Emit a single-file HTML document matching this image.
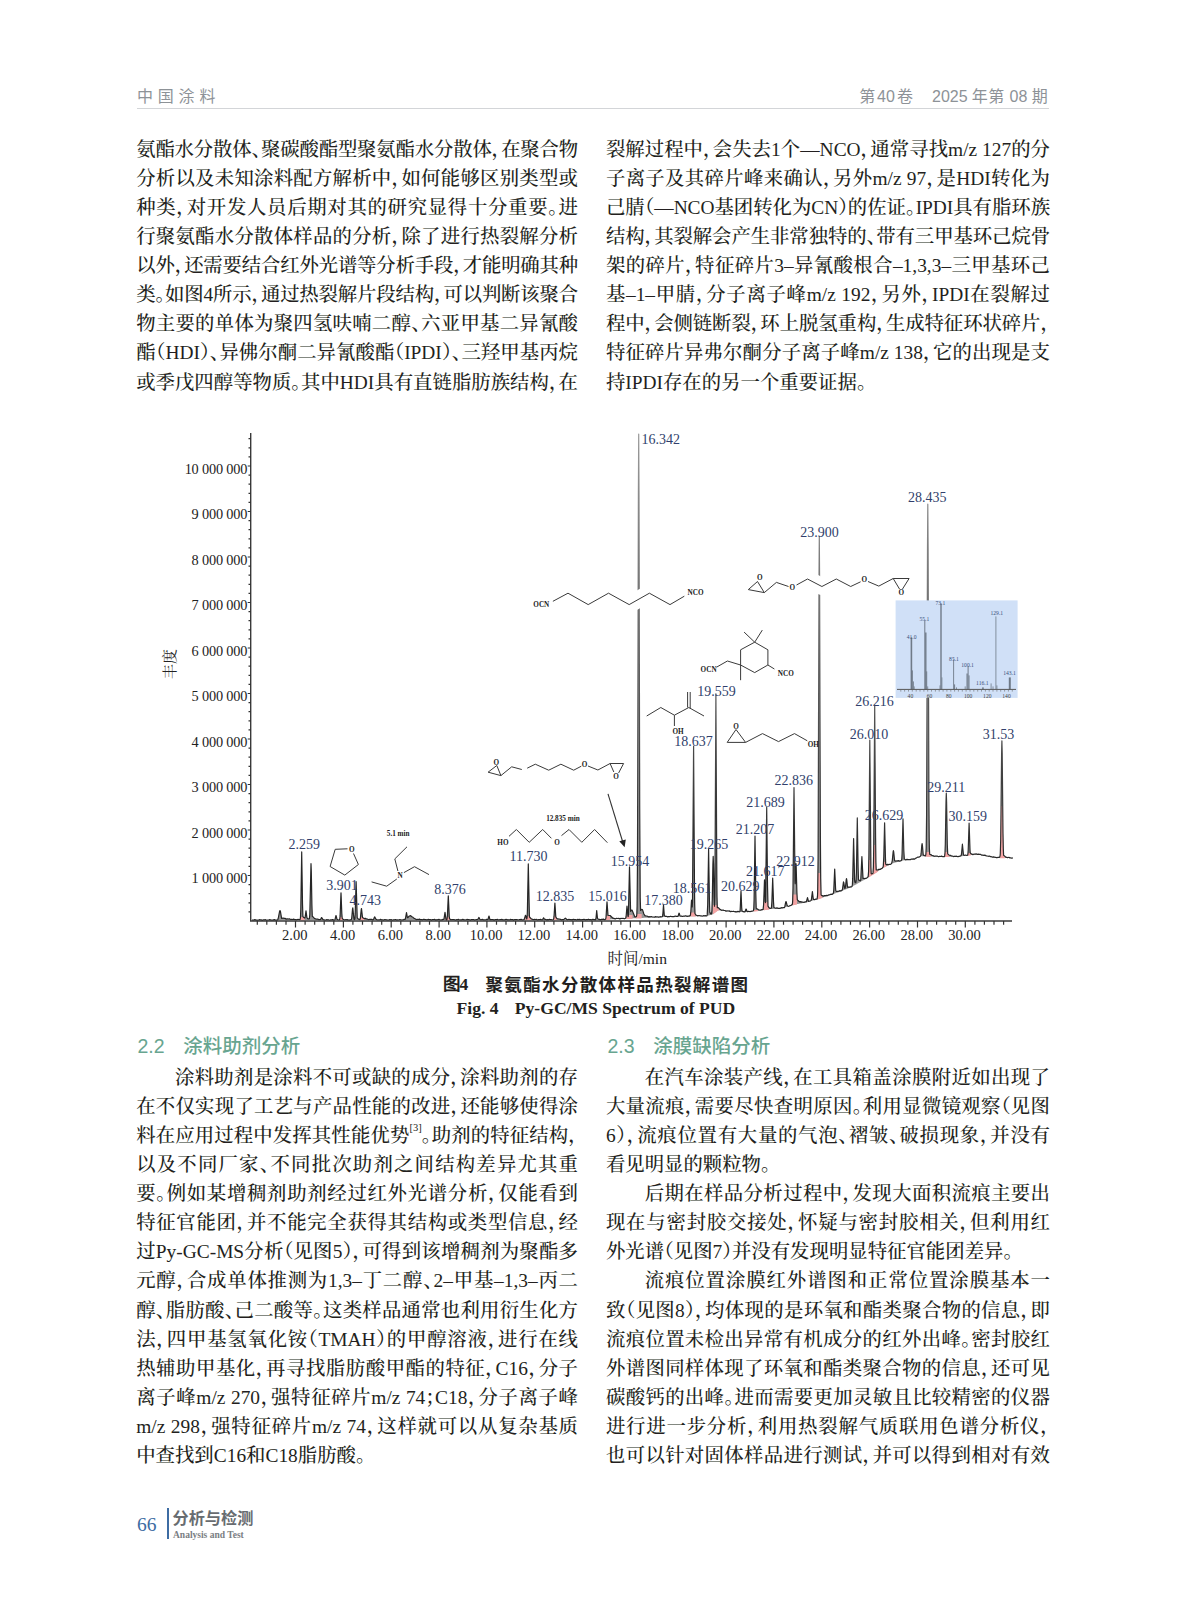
<!DOCTYPE html>
<html lang="zh-CN"><head><meta charset="utf-8"><title>page</title><style>
*{margin:0;padding:0;box-sizing:border-box}
html,body{width:1187px;height:1600px;background:#fff;overflow:hidden}
body{position:relative;font-family:"Liberation Serif","Noto Serif CJK SC",serif;color:#231f20}
.l{position:absolute;height:29px;line-height:29px;font-size:19.4px;font-weight:500;white-space:nowrap;text-align:justify;text-align-last:justify}
.l.i{padding-left:38.8px}
.l.e{text-align-last:left}
.h{font-feature-settings:"halt"}
sup{font-size:10.5px;vertical-align:top;position:relative;top:1.5px;line-height:1;font-weight:400}
.hd{position:absolute;font-family:"Liberation Sans","Noto Sans CJK SC",sans-serif;color:#8d9297;font-size:16px;line-height:20px;white-space:nowrap}
.sec{position:absolute;font-family:"Liberation Sans","Noto Sans CJK SC",sans-serif;color:#68a590;font-size:19.5px;line-height:24px;white-space:nowrap;font-weight:500}
.cap{position:absolute;white-space:nowrap;font-weight:bold;color:#231f20}
</style></head><body>
<div class="hd" style="left:137px;top:87px;letter-spacing:4.8px">中国涂料</div>
<div class="hd" style="left:859.3px;top:87px">第</div>
<div class="hd" style="left:877.0px;top:87px">40</div>
<div class="hd" style="left:897.0px;top:87px">卷</div>
<div class="hd" style="left:932.0px;top:87px">2025</div>
<div class="hd" style="left:971.8px;top:87px">年</div>
<div class="hd" style="left:988.2px;top:87px">第</div>
<div class="hd" style="left:1009.6px;top:87px">08</div>
<div class="hd" style="left:1031.8px;top:87px">期</div>
<div style="position:absolute;left:137px;top:107.5px;width:912px;height:1.5px;background:#d3d5d8"></div>
<div class="l" style="left:136.2px;top:135.20px;width:441.8px;letter-spacing:-0.20px">氨酯水分散体<span class="h">、</span>聚碳酸酯型聚氨酯水分散体<span class="h">，</span>在聚合物</div>
<div class="l" style="left:136.2px;top:164.24px;width:441.8px">分析以及未知涂料配方解析中<span class="h">，</span>如何能够区别类型或</div>
<div class="l" style="left:136.2px;top:193.28px;width:441.8px">种类<span class="h">，</span>对开发人员后期对其的研究显得十分重要<span class="h">。</span>进</div>
<div class="l" style="left:136.2px;top:222.32px;width:441.8px">行聚氨酯水分散体样品的分析<span class="h">，</span>除了进行热裂解分析</div>
<div class="l" style="left:136.2px;top:251.36px;width:441.8px;letter-spacing:-0.20px">以外<span class="h">，</span>还需要结合红外光谱等分析手段<span class="h">，</span>才能明确其种</div>
<div class="l" style="left:136.2px;top:280.40px;width:441.8px;letter-spacing:-0.19px">类<span class="h">。</span>如图4所示<span class="h">，</span>通过热裂解片段结构<span class="h">，</span>可以判断该聚合</div>
<div class="l" style="left:136.2px;top:309.44px;width:441.8px">物主要的单体为聚四氢呋喃二醇<span class="h">、</span>六亚甲基二异氰酸</div>
<div class="l" style="left:136.2px;top:338.48px;width:441.8px">酯<span class="h">（</span>HDI<span class="h">）</span><span class="h">、</span>异佛尔酮二异氰酸酯<span class="h">（</span>IPDI<span class="h">）</span><span class="h">、</span>三羟甲基丙烷</div>
<div class="l" style="left:136.2px;top:367.52px;width:441.8px">或季戊四醇等物质<span class="h">。</span>其中HDI具有直链脂肪族结构<span class="h">，</span>在</div>
<div class="l" style="left:605.9px;top:135.20px;width:444.1px">裂解过程中<span class="h">，</span>会失去1个—NCO<span class="h">，</span>通常寻找m/z 127的分</div>
<div class="l" style="left:605.9px;top:164.24px;width:444.1px">子离子及其碎片峰来确认<span class="h">，</span>另外m/z 97<span class="h">，</span>是HDI转化为</div>
<div class="l" style="left:605.9px;top:193.28px;width:444.1px;letter-spacing:-0.05px">己腈<span class="h">（</span>—NCO基团转化为CN<span class="h">）</span>的佐证<span class="h">。</span>IPDI具有脂环族</div>
<div class="l" style="left:605.9px;top:222.32px;width:444.1px;letter-spacing:-0.10px">结构<span class="h">，</span>其裂解会产生非常独特的<span class="h">、</span>带有三甲基环己烷骨</div>
<div class="l" style="left:605.9px;top:251.36px;width:444.1px">架的碎片<span class="h">，</span>特征碎片3–异氰酸根合–1,3,3–三甲基环己</div>
<div class="l" style="left:605.9px;top:280.40px;width:444.1px">基–1–甲腈<span class="h">，</span>分子离子峰m/z 192<span class="h">，</span>另外<span class="h">，</span>IPDI在裂解过</div>
<div class="l" style="left:605.9px;top:309.44px;width:444.1px;letter-spacing:-0.10px">程中<span class="h">，</span>会侧链断裂<span class="h">，</span>环上脱氢重构<span class="h">，</span>生成特征环状碎片<span class="h">，</span></div>
<div class="l" style="left:605.9px;top:338.48px;width:444.1px">特征碎片异弗尔酮分子离子峰m/z 138<span class="h">，</span>它的出现是支</div>
<div class="l e" style="left:605.9px;top:367.52px;width:444.1px">持IPDI存在的另一个重要证据<span class="h">。</span></div>
<div class="sec" style="left:137.5px;top:1034px">2.2<span style="display:inline-block;width:18.6px"></span>涂料助剂分析</div>
<div class="sec" style="left:607.5px;top:1034px">2.3<span style="display:inline-block;width:18.6px"></span>涂膜缺陷分析</div>
<div class="l i" style="left:136.2px;top:1063.20px;width:441.8px">涂料助剂是涂料不可或缺的成分<span class="h">，</span>涂料助剂的存</div>
<div class="l" style="left:136.2px;top:1092.24px;width:441.8px">在不仅实现了工艺与产品性能的改进<span class="h">，</span>还能够使得涂</div>
<div class="l" style="left:136.2px;top:1121.28px;width:441.8px">料在应用过程中发挥其性能优势<sup>[3]</sup><span class="h">。</span>助剂的特征结构<span class="h">，</span></div>
<div class="l" style="left:136.2px;top:1150.32px;width:441.8px">以及不同厂家<span class="h">、</span>不同批次助剂之间结构差异尤其重</div>
<div class="l" style="left:136.2px;top:1179.36px;width:441.8px">要<span class="h">。</span>例如某增稠剂助剂经过红外光谱分析<span class="h">，</span>仅能看到</div>
<div class="l" style="left:136.2px;top:1208.40px;width:441.8px">特征官能团<span class="h">，</span>并不能完全获得其结构或类型信息<span class="h">，</span>经</div>
<div class="l" style="left:136.2px;top:1237.44px;width:441.8px">过Py-GC-MS分析<span class="h">（</span>见图5<span class="h">）</span><span class="h">，</span>可得到该增稠剂为聚酯多</div>
<div class="l" style="left:136.2px;top:1266.48px;width:441.8px">元醇<span class="h">，</span>合成单体推测为1,3–丁二醇<span class="h">、</span>2–甲基–1,3–丙二</div>
<div class="l" style="left:136.2px;top:1295.52px;width:441.8px">醇<span class="h">、</span>脂肪酸<span class="h">、</span>己二酸等<span class="h">。</span>这类样品通常也利用衍生化方</div>
<div class="l" style="left:136.2px;top:1324.56px;width:441.8px">法<span class="h">，</span>四甲基氢氧化铵<span class="h">（</span>TMAH<span class="h">）</span>的甲醇溶液<span class="h">，</span>进行在线</div>
<div class="l" style="left:136.2px;top:1353.60px;width:441.8px">热辅助甲基化<span class="h">，</span>再寻找脂肪酸甲酯的特征<span class="h">，</span>C16<span class="h">，</span>分子</div>
<div class="l" style="left:136.2px;top:1382.64px;width:441.8px">离子峰m/z 270<span class="h">，</span>强特征碎片m/z 74<span class="h">；</span>C18<span class="h">，</span>分子离子峰</div>
<div class="l" style="left:136.2px;top:1411.68px;width:441.8px">m/z 298<span class="h">，</span>强特征碎片m/z 74<span class="h">，</span>这样就可以从复杂基质</div>
<div class="l e" style="left:136.2px;top:1440.72px;width:441.8px">中查找到C16和C18脂肪酸<span class="h">。</span></div>
<div class="l i" style="left:605.9px;top:1063.20px;width:444.1px">在汽车涂装产线<span class="h">，</span>在工具箱盖涂膜附近如出现了</div>
<div class="l" style="left:605.9px;top:1092.24px;width:444.1px">大量流痕<span class="h">，</span>需要尽快查明原因<span class="h">。</span>利用显微镜观察<span class="h">（</span>见图</div>
<div class="l" style="left:605.9px;top:1121.28px;width:444.1px">6<span class="h">）</span><span class="h">，</span>流痕位置有大量的气泡<span class="h">、</span>褶皱<span class="h">、</span>破损现象<span class="h">，</span>并没有</div>
<div class="l e" style="left:605.9px;top:1150.32px;width:444.1px">看见明显的颗粒物<span class="h">。</span></div>
<div class="l i" style="left:605.9px;top:1179.36px;width:444.1px">后期在样品分析过程中<span class="h">，</span>发现大面积流痕主要出</div>
<div class="l" style="left:605.9px;top:1208.40px;width:444.1px">现在与密封胶交接处<span class="h">，</span>怀疑与密封胶相关<span class="h">，</span>但利用红</div>
<div class="l e" style="left:605.9px;top:1237.44px;width:444.1px">外光谱<span class="h">（</span>见图7<span class="h">）</span>并没有发现明显特征官能团差异<span class="h">。</span></div>
<div class="l i" style="left:605.9px;top:1266.48px;width:444.1px">流痕位置涂膜红外谱图和正常位置涂膜基本一</div>
<div class="l" style="left:605.9px;top:1295.52px;width:444.1px">致<span class="h">（</span>见图8<span class="h">）</span><span class="h">，</span>均体现的是环氧和酯类聚合物的信息<span class="h">，</span>即</div>
<div class="l" style="left:605.9px;top:1324.56px;width:444.1px">流痕位置未检出异常有机成分的红外出峰<span class="h">。</span>密封胶红</div>
<div class="l" style="left:605.9px;top:1353.60px;width:444.1px">外谱图同样体现了环氧和酯类聚合物的信息<span class="h">，</span>还可见</div>
<div class="l" style="left:605.9px;top:1382.64px;width:444.1px">碳酸钙的出峰<span class="h">。</span>进而需要更加灵敏且比较精密的仪器</div>
<div class="l" style="left:605.9px;top:1411.68px;width:444.1px">进行进一步分析<span class="h">，</span>利用热裂解气质联用色谱分析仪<span class="h">，</span></div>
<div class="l" style="left:605.9px;top:1440.72px;width:444.1px">也可以针对固体样品进行测试<span class="h">，</span>并可以得到相对有效</div>
<div class="cap" style="left:442.5px;top:971.5px;font-size:17.5px;line-height:24px;font-family:'Liberation Serif',serif">图4</div>
<div class="cap" style="left:485.5px;top:971.5px;font-size:17.5px;line-height:24px;letter-spacing:1.35px;font-family:'Noto Sans CJK SC',sans-serif">聚氨酯水分散体样品热裂解谱图</div>
<div class="cap" style="left:456.5px;top:997.5px;font-size:17.6px;line-height:21px;font-family:'Liberation Serif',serif">Fig. 4</div>
<div class="cap" style="left:514.8px;top:997.5px;font-size:17.6px;line-height:21px;font-family:'Liberation Serif',serif">Py-GC/MS Spectrum of PUD</div>
<div style="position:absolute;left:137px;top:1513px;font-size:19.5px;line-height:24px;color:#3d6ca3;font-family:'Liberation Serif',serif">66</div>
<div style="position:absolute;left:166.5px;top:1508px;width:2px;height:31px;background:#3d6ca3"></div>
<div style="position:absolute;left:172.5px;top:1506px;font-size:16.2px;line-height:22px;color:#686c70;font-weight:bold;font-family:'Noto Sans CJK SC',sans-serif;white-space:nowrap">分析与检测</div>
<div style="position:absolute;left:173px;top:1529px;font-size:9.5px;line-height:12px;color:#7a7e82;font-weight:bold;font-family:'Liberation Serif',serif;white-space:nowrap">Analysis and Test</div>
<svg style="position:absolute;left:140px;top:425px" width="900" height="550" viewBox="140 425 900 550">
<polygon points="252.0,920.2 252.6,920.1 253.6,920.2 254.8,919.6 255.9,920.1 256.9,920.0 257.9,920.3 259.3,919.7 260.2,919.9 261.2,919.9 262.3,920.4 263.6,919.8 264.5,919.9 265.5,919.7 266.8,920.3 267.8,920.0 268.8,920.0 269.8,919.6 271.2,920.2 272.1,920.0 273.1,920.1 274.3,919.6 275.4,920.1 277.3,920.1 277.8,919.6 278.2,918.5 279.5,911.8 280.0,910.5 280.5,911.8 281.6,918.3 282.0,918.4 283.1,918.0 284.0,918.4 285.0,918.4 286.3,919.1 287.3,918.8 288.3,919.0 289.3,918.8 290.7,919.5 291.6,919.3 292.6,919.5 293.7,919.1 294.9,919.7 295.9,919.6 296.8,919.8 298.1,919.3 299.4,919.7 300.1,919.5 300.5,917.2 300.8,909.0 301.7,851.9 302.5,903.5 302.9,916.5 303.8,917.6 304.6,918.1 304.9,917.9 305.2,916.8 306.0,910.8 306.9,917.7 307.5,918.5 308.1,918.9 309.1,919.0 309.4,918.6 309.8,914.6 311.0,863.7 311.3,871.4 311.9,905.1 312.3,916.3 312.4,916.6 313.3,917.1 314.4,918.4 316.4,919.2 317.6,919.0 318.8,919.6 320.3,919.7 320.7,919.3 321.4,917.8 321.7,917.6 323.0,919.6 324.1,919.8 325.0,920.2 326.4,919.7 327.3,919.8 328.2,919.7 329.7,920.2 330.5,919.9 331.6,919.9 332.7,919.6 333.8,920.1 334.2,920.2 334.8,919.8 335.1,919.2 336.0,915.5 336.8,918.5 337.2,919.4 338.3,920.0 339.5,919.8 339.8,919.1 340.1,915.9 341.0,892.8 341.8,913.3 342.2,918.3 342.7,918.9 344.6,920.0 346.0,919.5 346.9,919.8 347.9,919.7 349.1,920.2 350.1,919.8 351.2,919.7 351.5,919.0 351.8,917.3 352.5,909.3 352.8,907.9 353.8,917.8 354.1,919.3 354.3,919.6 354.6,919.6 354.9,918.5 355.2,913.9 356.1,881.7 357.2,917.3 357.3,917.8 357.9,918.7 359.6,919.6 360.1,919.2 360.4,918.0 361.2,909.9 361.5,908.5 362.5,917.6 364.1,918.6 365.4,918.4 366.4,918.9 367.4,919.0 368.5,919.7 369.7,919.3 370.7,919.4 371.6,919.3 372.7,919.9 373.1,919.9 373.6,919.4 374.4,917.1 374.7,916.8 375.8,919.0 377.3,920.0 378.3,919.9 379.3,920.0 380.5,919.4 381.6,919.9 382.6,919.9 383.5,920.1 384.9,919.5 385.9,919.8 386.9,919.8 388.0,920.2 389.2,919.7 390.2,919.8 391.1,919.6 392.4,920.2 393.4,919.8 394.5,919.8 395.5,919.5 396.9,920.1 397.8,919.9 398.8,920.0 399.9,919.5 401.1,920.0 402.1,919.9 403.1,920.0 404.2,919.3 405.1,919.3 405.4,918.9 406.5,912.7 407.3,917.0 407.6,917.7 407.9,917.6 408.9,916.3 410.6,915.6 411.9,916.8 413.0,917.3 414.0,918.3 415.0,918.7 416.2,919.6 417.3,919.4 418.3,919.5 419.4,919.1 420.7,919.7 421.6,919.6 422.6,919.8 423.9,919.2 424.9,919.6 425.9,919.6 426.9,920.0 428.3,919.4 429.2,919.6 430.2,919.5 431.3,920.1 432.5,919.6 433.5,919.7 434.4,919.4 435.9,920.1 436.8,919.7 437.8,919.8 438.9,919.4 440.1,920.0 441.1,919.8 442.0,919.9 443.1,919.4 443.7,919.3 444.0,918.9 445.0,912.3 445.9,918.7 446.2,919.8 446.6,920.0 446.9,919.6 447.1,918.8 447.4,915.8 448.3,895.9 449.3,917.2 449.5,918.6 450.8,919.8 452.0,919.5 453.0,919.6 453.9,919.5 455.3,920.1 456.3,919.7 457.3,919.8 458.3,919.4 459.7,920.0 460.6,919.8 461.6,919.9 462.8,919.4 463.9,919.9 464.9,919.8 465.9,920.0 467.2,919.4 468.2,919.7 469.3,919.7 470.3,920.1 471.5,919.5 472.5,919.7 473.4,919.5 474.8,920.1 475.8,919.7 476.9,919.7 477.9,919.3 479.0,917.4 479.8,919.2 480.3,919.7 481.1,919.8 482.3,919.4 483.4,919.9 484.4,919.8 485.4,920.0 486.6,919.4 487.6,919.7 487.9,919.5 489.0,916.0 489.8,919.2 490.2,919.8 491.1,919.5 492.0,919.7 492.9,919.6 494.2,920.1 495.3,919.6 496.3,919.7 497.3,919.4 498.7,920.0 499.6,919.7 500.7,919.7 501.7,919.4 502.9,919.9 504.0,919.8 504.8,919.9 506.1,919.3 507.2,919.8 508.2,919.7 509.2,920.0 510.7,919.4 511.5,919.7 512.6,919.6 513.6,920.1 514.8,919.5 515.9,919.6 516.8,919.5 518.1,920.0 519.1,919.7 520.1,919.7 521.2,919.4 522.6,920.0 523.9,919.6 524.2,919.4 525.5,915.3 525.8,915.8 526.5,918.6 526.8,919.0 527.1,917.5 527.4,910.8 528.3,863.9 529.4,916.0 529.5,917.0 530.8,918.4 532.9,919.6 533.4,919.7 534.4,919.3 535.4,919.5 536.3,919.4 537.6,920.0 538.6,919.6 539.7,919.6 540.6,919.4 542.1,920.0 542.6,919.6 543.6,917.8 544.5,919.2 545.3,919.3 546.2,919.8 547.3,919.7 548.3,919.9 549.5,919.3 550.5,919.7 551.6,919.7 552.5,920.0 553.1,919.8 553.7,918.8 554.0,916.7 554.9,903.1 555.8,916.9 556.6,918.3 557.2,918.8 558.2,918.9 559.2,919.2 560.2,919.2 561.5,919.9 562.5,919.6 563.6,919.6 565.3,918.2 565.7,918.4 566.6,919.4 567.6,919.8 569.0,919.3 570.1,919.7 571.1,919.7 572.0,919.9 573.4,919.3 574.4,919.6 575.4,919.5 576.5,920.0 577.8,919.4 578.7,919.6 579.7,919.4 580.9,920.0 581.9,919.6 583.0,919.6 584.0,919.3 585.3,919.9 586.3,919.7 587.3,919.7 588.4,919.2 589.6,919.7 590.6,919.7 591.5,919.9 592.9,919.3 593.9,919.6 594.8,919.6 595.5,919.8 595.8,919.3 596.0,918.2 596.7,910.6 597.4,917.6 597.7,918.7 598.2,919.1 599.2,919.3 600.3,919.9 601.5,919.4 602.5,919.4 603.4,919.1 604.6,919.7 605.0,919.6 605.7,919.0 606.0,917.5 607.0,901.9 608.0,915.2 608.9,915.5 610.1,915.5 612.9,918.2 615.3,918.9 616.7,918.3 617.7,918.5 618.7,918.4 619.8,918.9 621.1,918.4 622.0,918.5 623.0,918.2 624.3,918.8 625.5,918.3 625.8,917.9 626.1,916.5 627.0,906.1 627.9,915.9 628.1,916.7 628.2,916.6 628.4,914.7 629.5,866.8 630.6,911.3 631.5,910.0 632.0,910.0 634.8,916.7 635.1,917.0 636.4,916.6 636.8,914.8 637.1,906.4 637.5,860.4 638.4,494.5 638.7,434.0 639.0,494.4 639.7,806.6 640.2,897.5 640.6,910.5 641.6,909.4 642.0,909.4 642.3,909.6 642.8,910.6 643.9,914.0 644.9,915.6 645.8,916.0 646.9,916.0 648.2,916.8 649.1,916.7 650.1,916.9 651.3,916.5 652.4,917.0 653.4,917.0 654.3,917.2 655.7,916.6 656.7,917.0 657.8,916.9 658.8,917.3 660.0,916.7 661.0,916.8 662.3,916.7 662.6,916.1 662.8,914.7 663.5,905.1 664.3,915.3 664.4,915.6 665.3,916.3 666.4,916.3 667.7,916.9 668.6,916.7 669.6,916.7 670.7,916.2 672.0,916.7 672.9,916.5 673.9,916.7 675.2,916.0 676.2,916.4 677.8,916.4 678.2,915.9 679.0,913.2 679.2,913.3 679.8,915.2 680.2,916.0 680.6,916.1 681.6,916.1 682.6,916.5 683.8,916.0 684.8,916.1 685.7,915.8 687.1,916.4 688.1,916.1 689.1,916.1 690.1,915.6 690.4,915.1 690.8,912.2 691.5,900.6 691.6,900.2 691.7,900.6 692.2,907.0 692.5,902.5 693.6,746.1 694.5,888.4 694.7,904.6 695.0,913.7 695.9,915.0 697.8,915.9 699.0,915.5 700.0,915.8 701.1,915.8 702.1,916.2 703.3,915.7 704.3,915.8 705.2,915.6 706.5,916.0 706.9,915.8 707.2,914.9 707.7,904.8 708.6,849.2 709.4,899.3 709.8,912.1 710.6,913.6 711.0,914.0 711.3,913.9 711.6,913.2 711.9,910.5 712.3,899.0 712.9,864.6 713.2,856.4 713.5,863.9 714.1,897.3 714.5,906.2 714.8,896.5 715.0,876.0 715.9,693.8 716.8,875.9 717.0,896.6 717.3,907.7 718.0,907.6 718.3,907.7 719.6,909.0 721.6,910.3 723.0,910.0 723.8,910.4 724.9,910.5 726.0,911.1 727.1,910.9 728.1,911.0 729.1,910.9 730.5,911.6 731.5,911.4 732.5,911.5 733.5,911.2 734.9,911.8 735.7,911.7 736.8,911.9 738.0,911.4 739.1,911.8 739.7,911.7 740.0,911.0 740.2,909.3 741.0,891.2 741.7,907.8 742.0,910.9 743.4,911.7 744.9,911.8 745.3,911.2 746.0,909.0 746.3,909.3 746.9,911.1 747.4,911.6 748.7,911.3 750.0,911.7 751.0,911.3 752.1,911.2 753.3,910.7 753.5,910.4 753.8,908.2 754.1,899.2 755.0,836.0 755.8,893.4 756.2,908.1 756.4,908.6 757.5,909.0 758.5,909.8 760.4,910.2 760.8,910.2 761.8,909.6 762.8,909.7 763.1,909.4 763.6,904.8 764.5,879.8 765.3,901.5 765.5,902.6 765.6,901.1 766.7,807.3 767.5,884.9 768.0,906.1 769.1,907.8 769.6,908.2 771.1,908.3 771.5,907.3 771.9,901.3 772.7,878.2 773.5,901.7 773.9,907.5 775.6,908.3 776.9,907.9 778.1,908.4 779.1,908.3 779.9,908.4 781.3,907.7 782.3,907.9 783.3,907.6 784.3,907.6 784.8,906.7 785.7,902.2 786.0,901.6 786.3,902.2 787.1,905.4 787.7,906.0 788.9,906.4 789.9,905.6 791.1,905.3 792.2,904.5 792.5,903.3 792.7,900.4 793.0,887.9 794.0,787.6 795.0,880.0 795.1,883.0 795.2,883.8 795.3,882.9 795.8,866.1 796.0,863.7 796.1,864.3 796.9,892.3 797.3,899.7 797.9,900.5 799.5,901.8 800.8,901.6 801.9,902.2 802.9,902.2 804.0,902.5 805.1,901.8 806.1,901.9 806.4,901.6 807.5,897.7 808.5,901.4 808.8,901.5 809.6,901.0 810.6,900.8 811.1,900.4 811.4,899.5 812.4,891.6 813.2,898.3 813.5,899.5 814.7,899.6 815.8,899.0 816.8,899.2 817.1,899.0 817.5,896.2 817.7,890.9 818.1,856.2 819.0,582.0 819.3,536.5 819.6,581.6 820.4,837.8 820.7,878.1 821.1,894.9 821.5,895.4 823.3,896.1 824.7,895.5 825.7,895.6 826.8,895.4 827.7,895.6 829.0,894.8 830.0,894.6 830.9,894.2 832.3,894.3 833.2,893.5 833.5,892.6 833.8,889.6 834.7,869.1 835.6,888.8 835.8,890.7 836.0,890.9 836.7,891.4 838.5,891.3 839.7,890.7 841.0,890.9 842.0,890.3 842.5,889.0 843.5,881.9 843.8,882.7 844.6,888.2 844.8,888.4 845.1,888.3 845.5,886.8 846.2,880.0 846.5,878.6 846.8,880.1 847.4,886.1 847.7,887.4 848.5,887.1 849.6,887.2 850.6,886.8 851.5,886.9 852.0,886.5 852.4,884.4 852.7,878.4 853.6,838.5 854.6,879.8 854.8,882.0 855.5,882.7 855.8,882.6 856.1,880.7 856.4,872.8 857.3,817.9 858.1,867.5 858.5,879.9 860.3,880.8 860.6,880.4 860.8,879.3 861.9,856.6 863.0,878.4 863.7,878.3 864.8,878.6 866.7,878.2 867.9,876.9 868.2,876.4 868.6,871.4 868.9,854.8 869.8,740.0 870.9,867.0 871.2,873.7 871.6,873.8 872.7,873.5 873.0,872.9 873.4,866.9 873.7,848.7 874.7,704.9 875.6,837.4 875.9,862.0 876.2,869.8 877.5,870.0 878.7,869.4 880.1,869.4 882.1,868.3 883.0,867.1 883.3,866.1 883.8,856.6 884.6,822.8 885.5,859.4 885.7,863.6 885.8,864.1 886.2,864.6 886.6,864.7 887.6,864.4 888.6,864.6 889.6,864.3 890.6,864.3 891.1,864.0 891.7,863.1 892.3,860.6 893.1,852.2 893.4,850.7 893.7,851.9 894.6,860.7 895.3,861.1 896.1,860.9 897.1,861.0 898.2,860.6 899.5,861.1 901.2,860.6 901.5,860.3 901.8,858.8 902.1,853.5 903.0,818.8 903.8,850.5 904.3,858.9 905.3,859.7 905.8,859.9 907.0,859.3 908.1,859.6 909.1,859.5 910.1,859.8 911.4,859.0 912.3,859.1 913.3,858.9 914.4,859.2 915.6,858.2 916.6,857.9 917.6,857.1 918.9,857.2 920.4,856.2 920.8,855.5 921.1,853.7 921.8,845.4 922.1,843.7 922.4,845.4 923.2,854.6 923.5,855.1 924.9,855.8 925.5,855.8 925.9,854.1 926.2,847.8 926.6,814.3 927.5,548.2 927.8,504.2 928.1,548.2 928.9,798.0 929.2,837.3 929.4,848.7 929.7,854.3 930.8,854.6 931.8,855.3 932.9,855.6 934.0,856.3 935.1,856.0 936.2,856.2 937.1,856.0 938.5,856.7 939.5,856.4 940.5,856.5 941.5,856.1 942.9,856.7 944.3,856.6 944.6,856.2 945.0,852.7 945.3,844.4 946.0,801.8 946.3,793.2 946.6,802.1 947.3,844.5 947.7,853.8 949.1,855.2 950.4,855.3 951.3,855.8 952.4,856.0 953.4,856.6 954.7,856.2 955.7,856.3 956.6,856.2 958.0,856.8 959.0,856.3 960.1,856.2 960.8,855.8 961.2,855.3 961.5,854.0 962.4,844.2 963.5,855.0 964.3,855.4 965.4,855.0 966.8,855.5 967.6,855.1 967.9,854.1 968.2,850.3 969.1,823.1 970.0,849.5 970.2,852.6 970.7,853.5 972.9,854.6 974.2,854.0 975.2,854.1 976.1,853.9 977.4,854.4 978.5,854.2 979.5,854.4 980.4,854.3 981.8,855.2 982.8,855.1 983.8,855.4 984.9,855.1 986.2,855.9 987.1,856.0 988.1,856.3 989.3,856.0 990.4,856.6 991.4,856.7 992.4,857.2 993.7,856.9 994.8,857.3 995.7,857.3 996.8,857.8 998.0,857.4 999.2,857.4 999.7,857.1 1000.1,855.6 1000.3,853.2 1000.7,839.7 1001.6,753.8 1001.9,740.8 1002.2,753.6 1003.0,833.5 1003.3,848.6 1003.6,854.9 1003.7,855.5 1004.4,855.8 1005.8,857.2 1007.6,857.7 1008.8,857.3 1009.9,857.9 1010.9,857.9 1011.8,858.2 1012.9,857.7 1013.0,858.2 1012.0,858.2 1011.0,858.1 1010.0,858.1 1009.0,858.1 1008.0,858.0 1007.0,858.0 1006.0,858.0 1005.0,857.9 1004.0,857.9 1003.0,857.9 1002.0,857.8 1001.0,857.8 1000.0,857.8 999.0,857.7 998.0,857.7 997.0,857.7 996.0,857.6 995.0,857.6 994.0,857.4 993.0,857.2 992.0,857.0 991.0,856.8 990.0,856.7 989.0,856.5 988.0,856.3 987.0,856.1 986.0,855.9 985.0,855.7 984.0,855.5 983.0,855.3 982.0,855.1 981.0,855.0 980.0,854.8 979.0,854.6 978.0,854.4 977.0,854.2 976.0,854.3 975.0,854.5 974.0,854.6 973.0,854.7 972.0,854.9 971.0,855.0 970.0,855.1 969.0,855.3 968.0,855.4 967.0,855.5 966.0,855.6 965.0,855.8 964.0,855.9 963.0,856.0 962.0,856.2 961.0,856.3 960.0,856.4 959.0,856.6 958.0,856.7 957.0,856.7 956.0,856.7 955.0,856.7 954.0,856.7 953.0,856.7 952.0,856.7 951.0,856.7 950.0,856.7 949.0,856.7 948.0,856.7 947.0,856.7 946.0,856.7 945.0,856.7 944.0,856.7 943.0,856.7 942.0,856.7 941.0,856.7 940.0,856.7 939.0,856.7 938.0,856.6 937.0,856.6 936.0,856.6 935.0,856.6 934.0,856.5 933.0,856.5 932.0,856.5 931.0,856.5 930.0,856.4 929.0,856.4 928.0,856.4 927.0,856.4 926.0,856.3 925.0,856.3 924.0,856.3 923.0,856.3 922.0,856.2 921.0,856.2 920.0,856.6 919.0,857.1 918.0,857.5 917.0,857.9 916.0,858.3 915.0,858.8 914.0,859.2 913.0,859.3 912.0,859.4 911.0,859.5 910.0,859.6 909.0,859.7 908.0,859.9 907.0,860.0 906.0,860.1 905.0,860.2 904.0,860.3 903.0,860.4 902.0,860.7 901.0,861.0 900.0,861.2 899.0,861.5 898.0,861.8 897.0,862.1 896.0,862.4 895.0,862.6 894.0,862.9 893.0,863.2 892.0,863.6 891.0,864.1 890.0,864.5 889.0,865.0 888.0,865.4 887.0,865.9 886.0,866.3 885.0,866.8 884.0,867.2 883.0,867.9 882.0,868.5 881.0,869.2 880.0,869.9 879.0,870.5 878.0,871.2 877.0,871.9 876.0,872.5 875.0,873.2 874.0,873.8 873.0,874.4 872.0,875.0 871.0,875.6 870.0,876.3 869.0,876.9 868.0,877.5 867.0,878.1 866.0,878.7 865.0,879.3 864.0,879.9 863.0,880.5 862.0,881.0 861.0,881.6 860.0,882.2 859.0,882.8 858.0,883.3 857.0,883.9 856.0,884.4 855.0,885.0 854.0,885.5 853.0,886.1 852.0,886.6 851.0,887.2 850.0,887.7 849.0,888.1 848.0,888.5 847.0,888.9 846.0,889.3 845.0,889.7 844.0,890.1 843.0,890.5 842.0,890.9 841.0,891.3 840.0,891.7 839.0,892.0 838.0,892.4 837.0,892.7 836.0,893.0 835.0,893.4 834.0,893.7 833.0,894.0 832.0,894.3 831.0,894.7 830.0,895.0 829.0,895.3 828.0,895.7 827.0,896.0 826.0,896.4 825.0,896.7 824.0,897.0 823.0,897.4 822.0,897.7 821.0,898.1 820.0,898.4 819.0,898.7 818.0,899.0 817.0,899.3 816.0,899.6 815.0,899.9 814.0,900.2 813.0,900.4 812.0,900.7 811.0,901.0 810.0,901.3 809.0,901.6 808.0,901.9 807.0,902.2 806.0,902.4 805.0,902.6 804.0,902.8 803.0,903.0 802.0,903.2 801.0,903.4 800.0,903.5 799.0,903.7 798.0,903.9 797.0,904.1 796.0,904.3 795.0,904.5 794.0,904.7 793.0,905.0 792.0,905.3 791.0,905.6 790.0,905.9 789.0,906.2 788.0,906.5 787.0,906.7 786.0,907.0 785.0,907.3 784.0,907.6 783.0,907.9 782.0,908.2 781.0,908.3 780.0,908.4 779.0,908.4 778.0,908.5 777.0,908.6 776.0,908.7 775.0,908.7 774.0,908.8 773.0,908.9 772.0,909.0 771.0,909.0 770.0,909.1 769.0,909.2 768.0,909.3 767.0,909.5 766.0,909.6 765.0,909.8 764.0,909.9 763.0,910.0 762.0,910.2 761.0,910.3 760.0,910.4 759.0,910.6 758.0,910.7 757.0,910.9 756.0,911.0 755.0,911.1 754.0,911.2 753.0,911.3 752.0,911.4 751.0,911.5 750.0,911.6 749.0,911.7 748.0,911.8 747.0,911.9 746.0,912.0 745.0,912.1 744.0,912.2 743.0,912.2 742.0,912.1 741.0,912.1 740.0,912.0 739.0,912.0 738.0,911.9 737.0,911.9 736.0,911.8 735.0,911.8 734.0,911.7 733.0,911.7 732.0,911.6 731.0,911.6 730.0,911.5 729.0,911.4 728.0,911.3 727.0,911.2 726.0,911.1 725.0,911.0 724.0,910.8 723.0,910.7 722.0,910.6 721.0,910.5 720.0,910.4 719.0,910.3 718.0,910.2 717.0,911.0 716.0,911.7 715.0,912.5 714.0,913.2 713.0,914.0 712.0,914.7 711.0,914.9 710.0,915.1 709.0,915.4 708.0,915.6 707.0,915.8 706.0,916.0 705.0,916.0 704.0,916.0 703.0,916.0 702.0,916.1 701.0,916.1 700.0,916.1 699.0,916.1 698.0,916.1 697.0,916.1 696.0,916.2 695.0,916.2 694.0,916.2 693.0,916.2 692.0,916.2 691.0,916.2 690.0,916.2 689.0,916.3 688.0,916.3 687.0,916.3 686.0,916.3 685.0,916.3 684.0,916.3 683.0,916.4 682.0,916.4 681.0,916.4 680.0,916.4 679.0,916.4 678.0,916.5 677.0,916.5 676.0,916.6 675.0,916.6 674.0,916.6 673.0,916.7 672.0,916.7 671.0,916.8 670.0,916.8 669.0,916.8 668.0,916.9 667.0,916.9 666.0,917.0 665.0,917.0 664.0,917.0 663.0,917.1 662.0,917.1 661.0,917.2 660.0,917.2 659.0,917.2 658.0,917.3 657.0,917.3 656.0,917.4 655.0,917.4 654.0,917.4 653.0,917.5 652.0,917.5 651.0,917.6 650.0,917.6 649.0,917.6 648.0,917.7 647.0,917.7 646.0,917.8 645.0,917.8 644.0,917.8 643.0,917.9 642.0,917.9 641.0,918.0 640.0,918.0 639.0,918.0 638.0,918.1 637.0,918.1 636.0,918.2 635.0,918.2 634.0,918.3 633.0,918.3 632.0,918.4 631.0,918.4 630.0,918.5 629.0,918.5 628.0,918.5 627.0,918.6 626.0,918.6 625.0,918.7 624.0,918.7 623.0,918.8 622.0,918.8 621.0,918.9 620.0,918.9 619.0,918.9 618.0,919.0 617.0,919.0 616.0,919.1 615.0,919.1 614.0,919.2 613.0,919.2 612.0,919.3 611.0,919.3 610.0,919.4 609.0,919.4 608.0,919.4 607.0,919.5 606.0,919.5 605.0,919.6 604.0,919.6 603.0,919.7 602.0,919.7 601.0,919.8 600.0,919.8 599.0,919.8 598.0,919.8 597.0,919.8 596.0,919.8 595.0,919.8 594.0,919.8 593.0,919.8 592.0,919.8 591.0,919.8 590.0,919.8 589.0,919.8 588.0,919.8 587.0,919.8 586.0,919.8 585.0,919.8 584.0,919.8 583.0,919.8 582.0,919.8 581.0,919.8 580.0,919.8 579.0,919.8 578.0,919.8 577.0,919.8 576.0,919.8 575.0,919.8 574.0,919.8 573.0,919.8 572.0,919.8 571.0,919.8 570.0,919.8 569.0,919.8 568.0,919.8 567.0,919.8 566.0,919.8 565.0,919.8 564.0,919.8 563.0,919.8 562.0,919.8 561.0,919.8 560.0,919.8 559.0,919.8 558.0,919.8 557.0,919.8 556.0,919.9 555.0,919.9 554.0,919.9 553.0,919.9 552.0,919.9 551.0,919.9 550.0,919.9 549.0,919.9 548.0,919.9 547.0,919.9 546.0,919.9 545.0,919.9 544.0,919.9 543.0,919.9 542.0,919.9 541.0,919.9 540.0,919.9 539.0,919.9 538.0,919.9 537.0,919.9 536.0,919.9 535.0,919.9 534.0,919.9 533.0,919.9 532.0,919.9 531.0,919.9 530.0,919.9 529.0,919.9 528.0,919.9 527.0,919.9 526.0,919.9 525.0,919.9 524.0,919.9 523.0,919.9 522.0,919.9 521.0,919.9 520.0,919.9 519.0,919.9 518.0,919.9 517.0,919.9 516.0,919.9 515.0,919.9 514.0,919.9 513.0,919.9 512.0,919.9 511.0,919.9 510.0,919.9 509.0,919.9 508.0,919.9 507.0,919.9 506.0,919.9 505.0,919.9 504.0,919.9 503.0,919.9 502.0,919.9 501.0,919.9 500.0,919.9 499.0,919.9 498.0,919.9 497.0,919.9 496.0,919.9 495.0,919.9 494.0,919.9 493.0,919.9 492.0,919.9 491.0,919.9 490.0,919.9 489.0,919.9 488.0,919.9 487.0,919.9 486.0,919.9 485.0,919.9 484.0,919.9 483.0,919.9 482.0,919.9 481.0,919.9 480.0,919.9 479.0,919.9 478.0,919.9 477.0,919.9 476.0,919.9 475.0,919.9 474.0,919.9 473.0,919.9 472.0,919.9 471.0,919.9 470.0,919.9 469.0,919.9 468.0,920.0 467.0,920.0 466.0,920.0 465.0,920.0 464.0,920.0 463.0,920.0 462.0,920.0 461.0,920.0 460.0,920.0 459.0,920.0 458.0,920.0 457.0,920.0 456.0,920.0 455.0,920.0 454.0,920.0 453.0,920.0 452.0,920.0 451.0,920.0 450.0,920.0 449.0,920.0 448.0,920.0 447.0,920.0 446.0,920.0 445.0,920.0 444.0,920.0 443.0,920.0 442.0,920.0 441.0,920.0 440.0,920.0 439.0,920.0 438.0,920.0 437.0,920.0 436.0,920.0 435.0,920.0 434.0,920.0 433.0,920.0 432.0,920.0 431.0,920.0 430.0,920.0 429.0,920.0 428.0,920.0 427.0,920.0 426.0,920.0 425.0,920.0 424.0,920.0 423.0,920.0 422.0,920.0 421.0,920.0 420.0,920.0 419.0,920.0 418.0,920.0 417.0,920.0 416.0,920.0 415.0,920.0 414.0,920.0 413.0,920.0 412.0,920.0 411.0,920.0 410.0,920.0 409.0,920.0 408.0,920.0 407.0,920.0 406.0,920.0 405.0,920.0 404.0,920.0 403.0,920.0 402.0,920.0 401.0,920.0 400.0,920.0 399.0,920.0 398.0,920.0 397.0,920.0 396.0,920.0 395.0,920.0 394.0,920.0 393.0,920.0 392.0,920.0 391.0,920.0 390.0,920.0 389.0,920.0 388.0,920.0 387.0,920.0 386.0,920.0 385.0,920.0 384.0,920.0 383.0,920.0 382.0,920.0 381.0,920.1 380.0,920.1 379.0,920.1 378.0,920.1 377.0,920.1 376.0,920.1 375.0,920.1 374.0,920.1 373.0,920.1 372.0,920.1 371.0,920.1 370.0,920.1 369.0,920.1 368.0,920.1 367.0,920.1 366.0,920.1 365.0,920.1 364.0,920.1 363.0,920.1 362.0,920.1 361.0,920.1 360.0,920.1 359.0,920.1 358.0,920.1 357.0,920.1 356.0,920.1 355.0,920.1 354.0,920.1 353.0,920.1 352.0,920.1 351.0,920.1 350.0,920.1 349.0,920.1 348.0,920.1 347.0,920.1 346.0,920.1 345.0,920.1 344.0,920.1 343.0,920.1 342.0,920.1 341.0,920.1 340.0,920.1 339.0,920.1 338.0,920.1 337.0,920.1 336.0,920.1 335.0,920.1 334.0,920.1 333.0,920.1 332.0,920.1 331.0,920.1 330.0,920.1 329.0,920.1 328.0,920.1 327.0,920.1 326.0,920.1 325.0,920.1 324.0,920.1 323.0,920.1 322.0,920.1 321.0,920.1 320.0,920.1 319.0,920.1 318.0,920.1 317.0,920.1 316.0,920.1 315.0,920.1 314.0,920.1 313.0,920.1 312.0,920.1 311.0,920.1 310.0,920.1 309.0,920.1 308.0,920.1 307.0,920.1 306.0,920.1 305.0,920.1 304.0,920.1 303.0,920.1 302.0,920.1 301.0,920.1 300.0,920.1 299.0,920.1 298.0,920.1 297.0,920.1 296.0,920.1 295.0,920.1 294.0,920.1 293.0,920.2 292.0,920.2 291.0,920.2 290.0,920.2 289.0,920.2 288.0,920.2 287.0,920.2 286.0,920.2 285.0,920.2 284.0,920.2 283.0,920.2 282.0,920.2 281.0,920.2 280.0,920.2 279.0,920.2 278.0,920.2 277.0,920.2 276.0,920.2 275.0,920.2 274.0,920.2 273.0,920.2 272.0,920.2 271.0,920.2 270.0,920.2 269.0,920.2 268.0,920.2 267.0,920.2 266.0,920.2 265.0,920.2 264.0,920.2 263.0,920.2 262.0,920.2 261.0,920.2 260.0,920.2 259.0,920.2 258.0,920.2 257.0,920.2 256.0,920.2 255.0,920.2 254.0,920.2 253.0,920.2 252.0,920.2" fill="#959595" stroke="none"/>
<polygon points="817.4,897.5 817.5,896.2 817.6,894.1 817.7,890.9 817.8,886.2 817.9,879.2 818.0,873.0 818.1,873.0 818.2,873.0 818.3,873.0 818.4,873.0 818.5,873.0 818.6,873.0 818.7,873.0 818.8,873.0 818.9,873.0 819.0,873.0 819.1,873.0 819.2,873.0 819.3,873.0 819.4,873.0 819.5,873.0 819.6,873.0 819.7,873.0 819.8,873.0 819.9,873.0 820.0,873.0 820.1,873.0 820.2,873.0 820.3,873.0 820.4,873.0 820.5,873.0 820.6,873.0 820.7,878.1 820.8,885.0 820.9,889.7 821.0,892.8 821.1,894.9 821.2,895.2 821.3,895.2 821.4,895.3 821.5,895.4 821.6,895.4 821.7,895.5 821.8,895.5 821.9,895.5 822.0,895.5 822.1,895.6 822.2,895.6 822.3,895.6 822.3,898.0 822.2,898.1 822.1,898.1 822.0,898.1 821.9,898.2 821.8,898.2 821.7,898.2 821.6,898.3 821.5,898.3 821.4,898.3 821.3,898.4 821.2,898.4 821.1,898.4 821.0,898.5 820.9,898.5 820.8,898.5 820.7,898.6 820.6,898.6 820.5,898.6 820.4,898.7 820.3,898.7 820.2,898.7 820.1,898.8 820.0,898.8 819.9,898.8 819.8,898.9 819.7,898.9 819.6,898.9 819.5,898.9 819.4,899.0 819.3,899.0 819.2,899.0 819.1,899.1 819.0,899.1 818.9,899.1 818.8,899.2 818.7,899.2 818.6,899.2 818.5,899.2 818.4,899.3 818.3,899.3 818.2,899.3 818.1,899.4 818.0,899.4 817.9,899.4 817.8,899.4 817.7,899.5 817.6,899.5 817.5,899.5 817.4,899.6" fill="#f3a3a3"/>
<polygon points="871.7,873.8 871.8,873.7 873.0,872.9 873.1,872.3 873.2,871.3 873.3,869.6 873.4,866.9 873.5,862.9 873.6,856.9 873.7,848.7 873.8,845.0 873.9,845.0 874.0,845.0 874.1,845.0 874.2,845.0 874.3,845.0 874.4,845.0 874.5,845.0 874.6,845.0 874.7,845.0 874.8,845.0 874.9,845.0 875.0,845.0 875.1,845.0 875.2,845.0 875.3,845.0 875.4,845.0 875.5,845.0 875.6,845.0 875.7,848.2 875.8,856.3 875.9,862.0 876.0,866.0 876.1,868.5 876.2,869.8 876.3,869.8 876.4,869.8 876.5,869.9 876.6,869.9 876.7,869.9 876.8,869.9 876.9,869.9 877.0,870.0 877.1,870.0 877.2,870.0 877.3,870.0 877.4,870.0 877.5,870.0 877.6,870.0 877.7,870.0 877.7,871.8 877.6,871.9 877.5,871.9 877.4,872.0 877.3,872.1 877.2,872.1 877.1,872.2 877.0,872.3 876.9,872.3 876.8,872.4 876.7,872.5 876.6,872.5 876.5,872.6 876.4,872.7 876.3,872.7 876.2,872.8 876.1,872.9 876.0,872.9 875.9,873.0 875.8,873.1 875.7,873.1 875.6,873.2 875.5,873.3 875.4,873.3 875.3,873.4 875.2,873.5 875.1,873.5 875.0,873.6 874.9,873.7 874.8,873.7 874.7,873.8 874.6,873.8 874.5,873.9 874.4,874.0 874.3,874.0 874.2,874.1 874.1,874.1 874.0,874.2 873.9,874.3 873.8,874.3 873.7,874.4 873.6,874.5 873.5,874.5 873.4,874.6 873.3,874.6 873.2,874.7 873.1,874.8 873.0,874.8 871.8,875.6 871.7,875.6" fill="#f3a3a3"/>
<polygon points="1000.0,856.2 1000.1,855.6 1000.2,854.6 1000.3,853.2 1000.4,851.2 1000.5,848.4 1000.6,844.6 1000.7,839.7 1000.8,833.5 1000.9,826.0 1001.0,817.1 1001.1,807.0 1001.2,806.0 1001.3,806.0 1001.4,806.0 1001.5,806.0 1001.6,806.0 1001.7,806.0 1001.8,806.0 1001.9,806.0 1002.0,806.0 1002.1,806.0 1002.2,806.0 1002.3,806.0 1002.4,806.0 1002.5,806.0 1002.6,806.0 1002.7,806.8 1002.8,816.9 1002.9,825.8 1003.0,833.5 1003.1,839.7 1003.2,844.7 1003.3,848.6 1003.4,851.4 1003.5,853.5 1003.6,854.9 1003.7,855.5 1003.8,855.5 1003.9,855.5 1004.0,855.6 1004.1,855.6 1004.2,855.7 1004.3,855.8 1004.4,855.8 1004.5,855.9 1004.6,856.0 1004.7,856.1 1004.8,856.3 1004.9,856.4 1004.9,858.3 1004.8,858.3 1004.7,858.3 1004.6,858.3 1004.5,858.3 1004.4,858.3 1004.3,858.3 1004.2,858.3 1004.1,858.3 1004.0,858.3 1003.9,858.3 1003.8,858.3 1003.7,858.3 1003.6,858.3 1003.5,858.3 1003.4,858.3 1003.3,858.3 1003.2,858.3 1003.1,858.3 1003.0,858.3 1002.9,858.3 1002.8,858.3 1002.7,858.3 1002.6,858.3 1002.5,858.2 1002.4,858.2 1002.3,858.2 1002.2,858.2 1002.1,858.2 1002.0,858.2 1001.9,858.2 1001.8,858.2 1001.7,858.2 1001.6,858.2 1001.5,858.2 1001.4,858.2 1001.3,858.2 1001.2,858.2 1001.1,858.2 1001.0,858.2 1000.9,858.2 1000.8,858.2 1000.7,858.2 1000.6,858.2 1000.5,858.2 1000.4,858.2 1000.3,858.2 1000.2,858.2 1000.1,858.2 1000.0,858.2" fill="#f3a3a3"/>
<polygon points="925.8,854.9 925.9,854.1 926.0,852.9 926.1,852.0 926.2,852.0 926.3,852.0 926.4,852.0 926.5,852.0 926.6,852.0 926.7,852.0 926.8,852.0 926.9,852.0 927.0,852.0 927.1,852.0 927.2,852.0 927.3,852.0 927.4,852.0 927.5,852.0 927.6,852.0 927.7,852.0 927.8,852.0 927.9,852.0 928.0,852.0 928.1,852.0 928.2,852.0 928.3,852.0 928.4,852.0 928.5,852.0 928.6,852.0 928.7,852.0 928.8,852.0 928.9,852.0 929.0,852.0 929.1,852.0 929.2,852.0 929.3,852.0 929.4,852.0 929.5,852.0 929.6,853.7 929.7,854.3 929.8,854.3 929.9,854.4 930.0,854.4 930.1,854.4 930.2,854.5 930.3,854.5 930.4,854.5 930.5,854.5 930.6,854.5 930.7,854.5 930.8,854.6 930.8,856.9 930.7,856.9 930.6,856.9 930.5,856.9 930.4,856.8 930.3,856.8 930.2,856.8 930.1,856.8 930.0,856.8 929.9,856.8 929.8,856.8 929.7,856.8 929.6,856.8 929.5,856.8 929.4,856.8 929.3,856.8 929.2,856.8 929.1,856.8 929.0,856.8 928.9,856.8 928.8,856.8 928.7,856.8 928.6,856.8 928.5,856.8 928.4,856.8 928.3,856.8 928.2,856.8 928.1,856.8 928.0,856.8 927.9,856.8 927.8,856.8 927.7,856.8 927.6,856.8 927.5,856.8 927.4,856.8 927.3,856.8 927.2,856.8 927.1,856.8 927.0,856.8 926.9,856.8 926.8,856.8 926.7,856.8 926.6,856.7 926.5,856.7 926.4,856.7 926.3,856.7 926.2,856.7 926.1,856.7 926.0,856.7 925.9,856.7 925.8,856.7" fill="#f3a3a3"/>
<polygon points="792.5,903.3 792.6,902.2 792.7,900.4 792.8,897.6 792.9,894.5 793.0,894.5 793.1,894.5 793.2,894.5 793.3,894.5 793.4,894.5 793.5,894.5 793.6,894.5 793.7,894.5 793.8,894.5 793.9,894.5 794.0,894.5 794.1,894.5 794.2,894.5 794.3,894.5 794.4,894.5 794.5,894.5 794.6,894.5 794.7,894.5 794.8,894.5 794.9,894.5 795.0,894.5 795.1,894.5 795.2,894.5 795.3,894.5 795.4,894.5 795.5,894.5 795.6,894.5 795.7,894.5 795.8,894.5 795.9,894.5 796.0,894.5 796.1,894.5 796.2,894.5 796.3,894.5 796.4,894.5 796.5,894.5 796.6,894.5 796.7,894.5 796.8,894.5 796.9,894.5 797.0,895.1 797.0,904.5 796.9,904.5 796.8,904.6 796.7,904.6 796.6,904.6 796.5,904.6 796.4,904.6 796.3,904.7 796.2,904.7 796.1,904.7 796.0,904.7 795.9,904.7 795.8,904.8 795.7,904.8 795.6,904.8 795.5,904.8 795.4,904.8 795.3,904.9 795.2,904.9 795.1,904.9 795.0,904.9 794.9,904.9 794.8,904.9 794.7,905.0 794.6,905.0 794.5,905.0 794.4,905.0 794.3,905.0 794.2,905.1 794.1,905.1 794.0,905.1 793.9,905.1 793.8,905.2 793.7,905.2 793.6,905.2 793.5,905.2 793.4,905.3 793.3,905.3 793.2,905.3 793.1,905.4 793.0,905.4 792.9,905.4 792.8,905.5 792.7,905.5 792.6,905.5 792.5,905.5" fill="#f3a3a3"/>
<polygon points="868.4,875.1 868.5,873.7 868.6,871.4 868.7,867.9 868.8,862.5 868.9,860.0 869.0,860.0 869.1,860.0 869.2,860.0 869.3,860.0 869.4,860.0 869.5,860.0 869.6,860.0 869.7,860.0 869.8,860.0 869.9,860.0 870.0,860.0 870.1,860.0 870.2,860.0 870.3,860.0 870.4,860.0 870.5,860.0 870.6,860.0 870.7,860.0 870.8,861.7 870.9,867.0 871.0,870.5 871.1,872.8 871.2,873.7 871.3,873.8 871.4,873.8 871.5,873.8 871.6,873.8 871.7,873.8 871.8,873.7 871.8,875.6 871.7,875.6 871.6,875.7 871.5,875.7 871.4,875.8 871.3,875.9 871.2,875.9 871.1,876.0 871.0,876.0 870.9,876.1 870.8,876.2 870.7,876.2 870.6,876.3 870.5,876.4 870.4,876.4 870.3,876.5 870.2,876.5 870.1,876.6 870.0,876.7 869.9,876.7 869.8,876.8 869.7,876.8 869.6,876.9 869.5,877.0 869.4,877.0 869.3,877.1 869.2,877.1 869.1,877.2 869.0,877.3 868.9,877.3 868.8,877.4 868.7,877.5 868.6,877.5 868.5,877.6 868.4,877.6" fill="#f3a3a3"/>
<polygon points="763.7,902.5 763.8,902.0 763.9,902.0 764.0,902.0 764.1,902.0 764.2,902.0 764.3,902.0 764.4,902.0 764.5,902.0 764.6,902.0 764.7,902.0 764.8,902.0 764.9,902.0 765.0,902.0 765.1,902.0 765.2,902.0 765.3,902.0 765.4,902.7 765.5,902.6 765.6,902.0 765.7,902.0 765.8,902.0 765.9,902.0 766.0,902.0 766.1,902.0 766.2,902.0 766.3,902.0 766.4,902.0 766.5,902.0 766.6,902.0 766.7,902.0 766.8,902.0 766.9,902.0 767.0,902.0 767.1,902.0 767.2,902.0 767.3,902.0 767.4,902.0 767.5,902.0 767.6,902.0 767.7,902.0 767.8,902.0 767.9,904.7 768.0,906.1 768.1,906.3 768.2,906.4 768.3,906.6 768.4,906.7 768.5,906.9 768.6,907.0 768.7,907.2 768.8,907.4 768.9,907.5 769.0,907.6 769.1,907.8 769.1,909.6 769.0,909.6 768.9,909.6 768.8,909.6 768.7,909.6 768.6,909.7 768.5,909.7 768.4,909.7 768.3,909.7 768.2,909.7 768.1,909.7 768.0,909.7 767.9,909.8 767.8,909.8 767.7,909.8 767.6,909.8 767.5,909.8 767.4,909.8 767.3,909.8 767.2,909.8 767.1,909.9 767.0,909.9 766.9,909.9 766.8,909.9 766.7,909.9 766.6,909.9 766.5,909.9 766.4,910.0 766.3,910.0 766.2,910.0 766.1,910.0 766.0,910.0 765.9,910.0 765.8,910.0 765.7,910.1 765.6,910.1 765.5,910.1 765.4,910.1 765.3,910.1 765.2,910.1 765.1,910.1 765.0,910.2 764.9,910.2 764.8,910.2 764.7,910.2 764.6,910.2 764.5,910.2 764.4,910.2 764.3,910.3 764.2,910.3 764.1,910.3 764.0,910.3 763.9,910.3 763.8,910.3 763.7,910.3" fill="#f3a3a3"/>
<polygon points="712.9,905.0 713.0,905.0 713.1,905.0 713.2,905.0 713.3,905.0 713.4,905.0 713.5,905.0 713.6,905.0 713.7,905.0 713.8,905.0 713.9,905.0 714.0,905.0 714.1,905.0 714.2,905.0 714.3,905.0 714.4,905.7 714.5,906.2 714.6,905.3 714.7,905.0 714.8,905.0 714.9,905.0 715.0,905.0 715.1,905.0 715.2,905.0 715.3,905.0 715.4,905.0 715.5,905.0 715.6,905.0 715.7,905.0 715.8,905.0 715.9,905.0 716.0,905.0 716.1,905.0 716.2,905.0 716.3,905.0 716.4,905.0 716.5,905.0 716.6,905.0 716.7,905.0 716.8,905.0 716.9,905.0 717.0,905.0 717.1,905.0 717.2,905.8 717.3,907.7 717.4,907.7 717.5,907.7 717.6,907.7 717.7,907.7 717.8,907.7 717.9,907.6 718.0,907.6 718.1,907.6 718.2,907.7 718.3,907.7 718.4,907.8 718.5,907.9 718.6,908.0 718.7,908.1 718.8,908.2 718.9,908.3 718.9,910.7 718.8,910.7 718.7,910.7 718.6,910.7 718.5,910.7 718.4,910.6 718.3,910.6 718.2,910.6 718.1,910.6 718.0,910.6 717.9,910.7 717.8,910.8 717.7,910.8 717.6,910.9 717.5,911.0 717.4,911.1 717.3,911.1 717.2,911.2 717.1,911.3 717.0,911.4 716.9,911.4 716.8,911.5 716.7,911.6 716.6,911.6 716.5,911.7 716.4,911.8 716.3,911.9 716.2,912.0 716.1,912.0 716.0,912.1 715.9,912.2 715.8,912.3 715.7,912.3 715.6,912.4 715.5,912.5 715.4,912.6 715.3,912.6 715.2,912.7 715.1,912.8 715.0,912.9 714.9,912.9 714.8,913.0 714.7,913.1 714.6,913.1 714.5,913.2 714.4,913.3 714.3,913.4 714.2,913.5 714.1,913.5 714.0,913.6 713.9,913.7 713.8,913.8 713.7,913.8 713.6,913.9 713.5,914.0 713.4,914.1 713.3,914.1 713.2,914.2 713.1,914.3 713.0,914.4 712.9,914.4" fill="#f3a3a3"/>
<polygon points="883.3,866.1 883.4,865.3 883.5,864.1 883.6,862.4 883.7,862.0 883.8,862.0 883.9,862.0 884.0,862.0 884.1,862.0 884.2,862.0 884.3,862.0 884.4,862.0 884.5,862.0 884.6,862.0 884.7,862.0 884.8,862.0 884.9,862.0 885.0,862.0 885.1,862.0 885.2,862.0 885.3,862.0 885.4,862.0 885.5,862.0 885.6,862.0 885.7,863.6 885.8,864.1 885.9,864.3 886.0,864.4 886.1,864.5 886.2,864.6 886.3,864.7 886.4,864.7 886.4,866.5 886.3,866.6 886.2,866.6 886.1,866.7 886.0,866.7 885.9,866.8 885.8,866.8 885.7,866.8 885.6,866.9 885.5,866.9 885.4,867.0 885.3,867.0 885.2,867.1 885.1,867.1 885.0,867.2 884.9,867.2 884.8,867.2 884.7,867.3 884.6,867.3 884.5,867.4 884.4,867.4 884.3,867.5 884.2,867.5 884.1,867.6 884.0,867.6 883.9,867.7 883.8,867.7 883.7,867.8 883.6,867.9 883.5,867.9 883.4,868.0 883.3,868.1" fill="#f3a3a3"/>
<polygon points="944.8,855.1 944.9,854.2 945.0,852.7 945.1,852.0 945.2,852.0 945.3,852.0 945.4,852.0 945.5,852.0 945.6,852.0 945.7,852.0 945.8,852.0 945.9,852.0 946.0,852.0 946.1,852.0 946.2,852.0 946.3,852.0 946.4,852.0 946.5,852.0 946.6,852.0 946.7,852.0 946.8,852.0 946.9,852.0 947.0,852.0 947.1,852.0 947.2,852.0 947.3,852.0 947.4,852.0 947.5,852.0 947.6,852.7 947.7,853.8 947.8,853.9 947.9,854.0 948.0,854.1 948.1,854.2 948.2,854.3 948.3,854.4 948.4,854.5 948.5,854.7 948.6,854.8 948.7,854.9 948.8,855.0 948.9,855.1 949.0,855.2 949.1,855.2 949.2,855.3 949.2,857.1 949.1,857.1 949.0,857.1 948.9,857.1 948.8,857.1 948.7,857.1 948.6,857.1 948.5,857.1 948.4,857.1 948.3,857.1 948.2,857.1 948.1,857.1 948.0,857.1 947.9,857.1 947.8,857.1 947.7,857.1 947.6,857.1 947.5,857.1 947.4,857.1 947.3,857.1 947.2,857.1 947.1,857.1 947.0,857.1 946.9,857.1 946.8,857.1 946.7,857.1 946.6,857.1 946.5,857.1 946.4,857.1 946.3,857.1 946.2,857.1 946.1,857.1 946.0,857.1 945.9,857.1 945.8,857.1 945.7,857.1 945.6,857.1 945.5,857.1 945.4,857.1 945.3,857.1 945.2,857.1 945.1,857.1 945.0,857.1 944.9,857.1 944.8,857.1" fill="#f3a3a3"/>
<polygon points="968.0,853.3 968.1,853.0 968.2,853.0 968.3,853.0 968.4,853.0 968.5,853.0 968.6,853.0 968.7,853.0 968.8,853.0 968.9,853.0 969.0,853.0 969.1,853.0 969.2,853.0 969.3,853.0 969.4,853.0 969.5,853.0 969.6,853.0 969.7,853.0 969.8,853.0 969.9,853.0 970.0,853.0 970.1,853.0 970.2,853.0 970.3,853.0 970.4,853.1 970.5,853.2 970.6,853.3 970.7,853.5 970.8,853.6 970.8,855.4 970.7,855.4 970.6,855.4 970.5,855.5 970.4,855.5 970.3,855.5 970.2,855.5 970.1,855.5 970.0,855.5 969.9,855.5 969.8,855.5 969.7,855.6 969.6,855.6 969.5,855.6 969.4,855.6 969.3,855.6 969.2,855.6 969.1,855.6 969.0,855.7 968.9,855.7 968.8,855.7 968.7,855.7 968.6,855.7 968.5,855.7 968.4,855.7 968.3,855.7 968.2,855.8 968.1,855.8 968.0,855.8" fill="#f3a3a3"/>
<polygon points="635.9,916.8 636.0,916.7 636.1,916.7 636.2,916.7 636.3,916.7 636.4,916.6 636.5,916.5 636.6,916.2 636.7,915.7 636.8,914.8 636.9,914.0 637.0,914.0 637.1,914.0 637.2,914.0 637.3,914.0 637.4,914.0 637.5,914.0 637.6,914.0 637.7,914.0 637.8,914.0 637.9,914.0 638.0,914.0 638.1,914.0 638.2,914.0 638.3,914.0 638.4,914.0 638.5,914.0 638.6,914.0 638.7,914.0 638.8,914.0 638.9,914.0 639.0,914.0 639.1,914.0 639.2,914.0 639.3,914.0 639.4,914.0 639.5,914.0 639.6,914.0 639.7,914.0 639.8,914.0 639.9,914.0 640.0,914.0 640.1,914.0 640.2,914.0 640.3,914.0 640.4,914.0 640.5,914.0 640.6,914.0 640.7,914.0 640.8,914.0 640.9,914.0 641.0,914.0 641.1,914.0 641.2,914.0 641.3,914.0 641.4,914.0 641.5,914.0 641.6,914.0 641.7,914.0 641.7,918.3 641.6,918.3 641.5,918.3 641.4,918.3 641.3,918.3 641.2,918.4 641.1,918.4 641.0,918.4 640.9,918.4 640.8,918.4 640.7,918.4 640.6,918.4 640.5,918.4 640.4,918.4 640.3,918.4 640.2,918.4 640.1,918.4 640.0,918.4 639.9,918.4 639.8,918.4 639.7,918.4 639.6,918.4 639.5,918.4 639.4,918.4 639.3,918.4 639.2,918.4 639.1,918.4 639.0,918.4 638.9,918.4 638.8,918.5 638.7,918.5 638.6,918.5 638.5,918.5 638.4,918.5 638.3,918.5 638.2,918.5 638.1,918.5 638.0,918.5 637.9,918.5 637.8,918.5 637.7,918.5 637.6,918.5 637.5,918.5 637.4,918.5 637.3,918.5 637.2,918.5 637.1,918.5 637.0,918.5 636.9,918.5 636.8,918.5 636.7,918.5 636.6,918.6 636.5,918.6 636.4,918.6 636.3,918.6 636.2,918.6 636.1,918.6 636.0,918.6 635.9,918.6" fill="#f3a3a3"/>
<polygon points="690.6,914.1 690.7,913.3 690.8,912.5 690.9,912.5 691.0,912.5 691.1,912.5 691.2,912.5 691.3,912.5 691.4,912.5 691.5,912.5 691.6,912.5 691.7,912.5 691.8,912.5 691.9,912.5 692.0,912.5 692.1,912.5 692.2,912.5 692.3,912.5 692.4,912.5 692.5,912.5 692.6,912.5 692.7,912.5 692.8,912.5 692.9,912.5 693.0,912.5 693.1,912.5 693.2,912.5 693.3,912.5 693.4,912.5 693.5,912.5 693.6,912.5 693.7,912.5 693.8,912.5 693.9,912.5 694.0,912.5 694.1,912.5 694.2,912.5 694.3,912.5 694.4,912.5 694.5,912.5 694.6,912.5 694.7,912.5 694.8,912.5 694.9,912.5 695.0,913.7 695.1,913.9 695.2,914.1 695.3,914.3 695.4,914.4 695.5,914.6 695.6,914.7 695.6,916.6 695.5,916.6 695.4,916.6 695.3,916.6 695.2,916.6 695.1,916.6 695.0,916.6 694.9,916.6 694.8,916.6 694.7,916.6 694.6,916.6 694.5,916.6 694.4,916.6 694.3,916.6 694.2,916.6 694.1,916.6 694.0,916.6 693.9,916.6 693.8,916.6 693.7,916.6 693.6,916.6 693.5,916.6 693.4,916.6 693.3,916.6 693.2,916.6 693.1,916.6 693.0,916.6 692.9,916.6 692.8,916.6 692.7,916.6 692.6,916.6 692.5,916.6 692.4,916.6 692.3,916.6 692.2,916.6 692.1,916.6 692.0,916.6 691.9,916.6 691.8,916.6 691.7,916.6 691.6,916.6 691.5,916.6 691.4,916.6 691.3,916.6 691.2,916.6 691.1,916.6 691.0,916.6 690.9,916.6 690.8,916.6 690.7,916.6 690.6,916.6" fill="#f3a3a3"/>
<polygon points="753.7,910.0 753.8,910.0 753.9,910.0 754.0,910.0 754.1,910.0 754.2,910.0 754.3,910.0 754.4,910.0 754.5,910.0 754.6,910.0 754.7,910.0 754.8,910.0 754.9,910.0 755.0,910.0 755.1,910.0 755.2,910.0 755.3,910.0 755.4,910.0 755.5,910.0 755.6,910.0 755.7,910.0 755.8,910.0 755.9,910.0 756.0,910.0 756.1,910.0 756.2,910.0 756.3,910.0 756.4,910.0 756.5,910.0 756.6,910.0 756.7,910.0 756.8,910.0 756.9,910.0 757.0,910.0 757.1,910.0 757.2,910.0 757.3,910.0 757.4,910.0 757.5,910.0 757.6,910.0 757.7,910.0 757.8,910.0 757.9,910.0 757.9,911.1 757.8,911.2 757.7,911.2 757.6,911.2 757.5,911.2 757.4,911.2 757.3,911.2 757.2,911.2 757.1,911.2 757.0,911.3 756.9,911.3 756.8,911.3 756.7,911.3 756.6,911.3 756.5,911.3 756.4,911.3 756.3,911.4 756.2,911.4 756.1,911.4 756.0,911.4 755.9,911.4 755.8,911.4 755.7,911.4 755.6,911.4 755.5,911.4 755.4,911.5 755.3,911.5 755.2,911.5 755.1,911.5 755.0,911.5 754.9,911.5 754.8,911.5 754.7,911.5 754.6,911.5 754.5,911.5 754.4,911.6 754.3,911.6 754.2,911.6 754.1,911.6 754.0,911.6 753.9,911.6 753.8,911.6 753.7,911.6" fill="#f3a3a3"/>
<polygon points="300.4,918.3 300.5,917.2 300.6,917.0 300.7,917.0 300.8,917.0 300.9,917.0 301.0,917.0 301.1,917.0 301.2,917.0 301.3,917.0 301.4,917.0 301.5,917.0 301.6,917.0 301.7,917.0 301.8,917.0 301.9,917.0 302.0,917.0 302.1,917.0 302.2,917.0 302.3,917.0 302.4,917.0 302.5,917.0 302.6,917.0 302.7,917.0 302.8,917.0 302.9,917.0 303.0,917.0 303.1,917.0 303.2,917.0 303.3,917.1 303.4,917.2 303.5,917.3 303.6,917.4 303.7,917.5 303.8,917.6 303.9,917.7 304.0,917.8 304.1,917.8 304.2,917.9 304.3,917.9 304.4,918.0 304.5,918.0 304.6,918.1 304.7,918.1 304.7,920.5 304.6,920.5 304.5,920.5 304.4,920.5 304.3,920.5 304.2,920.5 304.1,920.5 304.0,920.5 303.9,920.5 303.8,920.5 303.7,920.5 303.6,920.5 303.5,920.5 303.4,920.5 303.3,920.5 303.2,920.5 303.1,920.5 303.0,920.5 302.9,920.5 302.8,920.5 302.7,920.5 302.6,920.5 302.5,920.5 302.4,920.5 302.3,920.5 302.2,920.5 302.1,920.5 302.0,920.5 301.9,920.5 301.8,920.5 301.7,920.5 301.6,920.5 301.5,920.5 301.4,920.5 301.3,920.5 301.2,920.5 301.1,920.5 301.0,920.5 300.9,920.5 300.8,920.5 300.7,920.5 300.6,920.5 300.5,920.5 300.4,920.5" fill="#f3a3a3"/>
<polygon points="339.9,918.4 340.0,917.3 340.1,917.0 340.2,917.0 340.3,917.0 340.4,917.0 340.5,917.0 340.6,917.0 340.7,917.0 340.8,917.0 340.9,917.0 341.0,917.0 341.1,917.0 341.2,917.0 341.3,917.0 341.4,917.0 341.5,917.0 341.6,917.0 341.7,917.0 341.8,917.0 341.9,917.0 342.0,917.0 342.1,918.0 342.2,918.3 342.3,918.5 342.4,918.6 342.5,918.7 342.5,920.5 342.4,920.5 342.3,920.5 342.2,920.5 342.1,920.5 342.0,920.5 341.9,920.5 341.8,920.5 341.7,920.5 341.6,920.5 341.5,920.5 341.4,920.5 341.3,920.5 341.2,920.5 341.1,920.5 341.0,920.5 340.9,920.5 340.8,920.5 340.7,920.5 340.6,920.5 340.5,920.5 340.4,920.5 340.3,920.5 340.2,920.5 340.1,920.5 340.0,920.5 339.9,920.5" fill="#f3a3a3"/>
<polygon points="360.3,918.6 360.4,918.0 360.5,917.4 360.6,917.0 360.7,917.0 360.8,917.0 360.9,917.0 361.0,917.0 361.1,917.0 361.2,917.0 361.3,917.0 361.4,917.0 361.5,917.0 361.6,917.0 361.7,917.0 361.8,917.0 361.9,917.0 362.0,917.0 362.1,917.0 362.2,917.0 362.3,917.0 362.4,917.0 362.5,917.6 362.6,917.7 362.7,917.7 362.8,917.7 362.9,917.8 363.0,917.8 363.1,917.9 363.2,918.0 363.3,918.1 363.4,918.1 363.5,918.2 363.6,918.3 363.7,918.4 363.8,918.5 363.9,918.5 364.0,918.6 364.1,918.6 364.2,918.7 364.4,918.7 364.5,918.6 364.5,920.5 364.4,920.5 364.2,920.5 364.1,920.5 364.0,920.5 363.9,920.5 363.8,920.5 363.7,920.5 363.6,920.5 363.5,920.5 363.4,920.5 363.3,920.5 363.2,920.5 363.1,920.5 363.0,920.5 362.9,920.5 362.8,920.5 362.7,920.5 362.6,920.5 362.5,920.5 362.4,920.5 362.3,920.5 362.2,920.5 362.1,920.5 362.0,920.5 361.9,920.5 361.8,920.5 361.7,920.5 361.6,920.5 361.5,920.5 361.4,920.5 361.3,920.5 361.2,920.5 361.1,920.5 361.0,920.5 360.9,920.5 360.8,920.5 360.7,920.5 360.6,920.5 360.5,920.5 360.4,920.5 360.3,920.5" fill="#f3a3a3"/>
<polygon points="445.3,917.0 445.4,917.0 445.5,917.0 445.6,917.0 445.7,917.4 445.8,918.1 447.2,918.1 447.3,917.1 447.4,917.0 447.5,917.0 447.6,917.0 447.7,917.0 447.8,917.0 447.9,917.0 448.0,917.0 448.1,917.0 448.2,917.0 448.3,917.0 448.4,917.0 448.5,917.0 448.6,917.0 448.7,917.0 448.8,917.0 448.9,917.0 449.0,917.0 449.1,917.0 449.2,917.0 449.3,917.2 449.4,918.1 449.4,920.4 449.3,920.4 449.2,920.4 449.1,920.4 449.0,920.4 448.9,920.4 448.8,920.4 448.7,920.4 448.6,920.4 448.5,920.4 448.4,920.4 448.3,920.4 448.2,920.4 448.1,920.4 448.0,920.4 447.9,920.4 447.8,920.4 447.7,920.4 447.6,920.4 447.5,920.4 447.4,920.4 447.3,920.4 447.2,920.4 445.8,920.4 445.7,920.4 445.6,920.4 445.5,920.4 445.4,920.4 445.3,920.4" fill="#f3a3a3"/>
<polygon points="525.3,916.0 525.4,916.0 525.5,916.0 525.6,916.0 525.7,916.0 525.8,916.0 525.9,916.1 526.0,916.5 526.1,917.0 526.2,917.4 526.3,917.9 526.4,918.3 527.0,918.4 527.1,917.5 527.2,916.1 527.3,916.0 527.4,916.0 527.5,916.0 527.6,916.0 527.7,916.0 527.8,916.0 527.9,916.0 528.0,916.0 528.1,916.0 528.2,916.0 528.3,916.0 528.4,916.0 528.5,916.0 528.6,916.0 528.7,916.0 528.8,916.0 528.9,916.0 529.0,916.0 529.1,916.0 529.2,916.0 529.3,916.0 529.4,916.0 529.5,917.0 529.6,917.1 529.7,917.1 529.8,917.2 529.9,917.3 530.0,917.4 530.1,917.5 530.2,917.6 530.3,917.7 530.4,917.9 530.5,918.0 530.6,918.1 530.7,918.2 530.8,918.4 530.9,918.5 530.9,920.3 530.8,920.3 530.7,920.3 530.6,920.3 530.5,920.3 530.4,920.3 530.3,920.3 530.2,920.3 530.1,920.3 530.0,920.3 529.9,920.3 529.8,920.3 529.7,920.3 529.6,920.3 529.5,920.3 529.4,920.3 529.3,920.3 529.2,920.3 529.1,920.3 529.0,920.3 528.9,920.3 528.8,920.3 528.7,920.3 528.6,920.3 528.5,920.3 528.4,920.3 528.3,920.3 528.2,920.3 528.1,920.3 528.0,920.3 527.9,920.3 527.8,920.3 527.7,920.3 527.6,920.3 527.5,920.3 527.4,920.3 527.3,920.3 527.2,920.3 527.1,920.3 527.0,920.3 526.4,920.3 526.3,920.3 526.2,920.3 526.1,920.3 526.0,920.3 525.9,920.3 525.8,920.3 525.7,920.3 525.6,920.3 525.5,920.3 525.4,920.3 525.3,920.3" fill="#f3a3a3"/>
<polygon points="553.8,918.3 553.9,917.7 554.0,916.7 554.1,916.0 554.2,916.0 554.3,916.0 554.4,916.0 554.5,916.0 554.6,916.0 554.7,916.0 554.8,916.0 554.9,916.0 555.0,916.0 555.1,916.0 555.2,916.0 555.3,916.0 555.4,916.0 555.5,916.0 555.6,916.0 555.7,916.0 555.8,916.9 555.9,917.2 556.0,917.3 556.1,917.5 556.2,917.6 556.3,917.8 556.4,918.0 556.5,918.1 556.6,918.3 556.7,918.4 556.7,920.2 556.6,920.2 556.5,920.2 556.4,920.2 556.3,920.2 556.2,920.3 556.1,920.3 556.0,920.3 555.9,920.3 555.8,920.3 555.7,920.3 555.6,920.3 555.5,920.3 555.4,920.3 555.3,920.3 555.2,920.3 555.1,920.3 555.0,920.3 554.9,920.3 554.8,920.3 554.7,920.3 554.6,920.3 554.5,920.3 554.4,920.3 554.3,920.3 554.2,920.3 554.1,920.3 554.0,920.3 553.9,920.3 553.8,920.3" fill="#f3a3a3"/>
<polygon points="606.0,917.5 606.1,916.5 606.2,916.0 606.3,916.0 606.4,916.0 606.5,916.0 606.6,916.0 606.7,916.0 606.8,916.0 606.9,916.0 607.0,916.0 607.1,916.0 607.2,916.0 607.3,916.0 607.4,916.0 607.5,916.0 607.6,916.0 607.7,916.0 607.8,916.0 607.9,916.0 608.0,916.0 608.1,916.0 608.2,916.0 608.3,916.0 608.4,916.0 608.5,916.0 608.6,916.0 608.7,916.0 608.8,916.0 608.9,916.0 609.0,916.0 609.1,916.0 609.2,916.0 609.3,916.0 609.4,916.0 609.5,916.0 609.6,916.0 609.7,916.0 609.8,916.0 609.9,916.0 610.0,916.0 610.0,919.8 609.9,919.8 609.8,919.8 609.7,919.8 609.6,919.8 609.5,919.8 609.4,919.8 609.3,919.8 609.2,919.8 609.1,919.8 609.0,919.8 608.9,919.8 608.8,919.8 608.7,919.8 608.6,919.8 608.5,919.8 608.4,919.8 608.3,919.8 608.2,919.8 608.1,919.8 608.0,919.8 607.9,919.8 607.8,919.8 607.7,919.9 607.6,919.9 607.5,919.9 607.4,919.9 607.3,919.9 607.2,919.9 607.1,919.9 607.0,919.9 606.9,919.9 606.8,919.9 606.7,919.9 606.6,919.9 606.5,919.9 606.4,919.9 606.3,919.9 606.2,919.9 606.1,919.9 606.0,919.9" fill="#f3a3a3"/>
<polygon points="626.5,915.0 626.6,915.0 626.7,915.0 626.8,915.0 626.9,915.0 627.0,915.0 627.1,915.0 627.2,915.0 627.3,915.0 627.4,915.0 627.5,915.0 627.6,915.0 627.7,915.0 627.8,915.1 627.9,915.9 628.0,916.5 628.1,916.7 628.2,916.6 628.3,915.9 628.4,915.0 628.5,915.0 628.6,915.0 628.7,915.0 628.8,915.0 628.9,915.0 629.0,915.0 629.1,915.0 629.2,915.0 629.3,915.0 629.4,915.0 629.5,915.0 629.6,915.0 629.7,915.0 629.8,915.0 629.9,915.0 630.0,915.0 630.1,915.0 630.2,915.0 630.3,915.0 630.4,915.0 630.5,915.0 630.6,915.0 630.7,915.0 630.8,915.0 630.9,915.0 631.0,915.0 631.1,915.0 631.2,915.0 631.3,915.0 631.4,915.0 631.5,915.0 631.6,915.0 631.7,915.0 631.8,915.0 631.9,915.0 632.0,915.0 632.1,915.0 632.2,915.0 632.3,915.0 632.4,915.0 632.5,915.0 632.5,918.7 632.4,918.7 632.3,918.7 632.2,918.8 632.1,918.8 632.0,918.8 631.9,918.8 631.8,918.8 631.7,918.8 631.6,918.8 631.5,918.8 631.4,918.8 631.3,918.8 631.2,918.8 631.1,918.8 631.0,918.8 630.9,918.8 630.8,918.8 630.7,918.8 630.6,918.8 630.5,918.8 630.4,918.8 630.3,918.8 630.2,918.8 630.1,918.8 630.0,918.9 629.9,918.9 629.8,918.9 629.7,918.9 629.6,918.9 629.5,918.9 629.4,918.9 629.3,918.9 629.2,918.9 629.1,918.9 629.0,918.9 628.9,918.9 628.8,918.9 628.7,918.9 628.6,918.9 628.5,918.9 628.4,918.9 628.3,918.9 628.2,918.9 628.1,918.9 628.0,918.9 627.9,918.9 627.8,918.9 627.7,919.0 627.6,919.0 627.5,919.0 627.4,919.0 627.3,919.0 627.2,919.0 627.1,919.0 627.0,919.0 626.9,919.0 626.8,919.0 626.7,919.0 626.6,919.0 626.5,919.0" fill="#f3a3a3"/>
<defs><linearGradient id="tg" gradientUnits="userSpaceOnUse" x1="0" y1="430" x2="0" y2="921"><stop offset="0" stop-color="#9a9a9a"/><stop offset="0.38" stop-color="#707070"/><stop offset="0.75" stop-color="#3a3a3a"/><stop offset="0.9" stop-color="#262626"/></linearGradient></defs>
<polyline points="252.0,920.2 252.6,920.1 253.6,920.2 254.8,919.6 255.9,920.1 256.9,920.0 257.9,920.3 259.3,919.7 260.2,919.9 261.2,919.9 262.3,920.4 263.6,919.8 264.5,919.9 265.5,919.7 266.8,920.3 267.8,920.0 268.8,920.0 269.8,919.6 271.2,920.2 272.1,920.0 273.1,920.1 274.3,919.6 275.4,920.1 277.3,920.1 277.8,919.6 278.2,918.5 279.5,911.8 280.0,910.5 280.5,911.8 281.6,918.3 282.0,918.4 283.1,918.0 284.0,918.4 285.0,918.4 286.3,919.1 287.3,918.8 288.3,919.0 289.3,918.8 290.7,919.5 291.6,919.3 292.6,919.5 293.7,919.1 294.9,919.7 295.9,919.6 296.8,919.8 298.1,919.3 299.4,919.7 300.1,919.5 300.5,917.2 300.8,909.0 301.7,851.9 302.5,903.5 302.9,916.5 303.8,917.6 304.6,918.1 304.9,917.9 305.2,916.8 306.0,910.8 306.9,917.7 307.5,918.5 308.1,918.9 309.1,919.0 309.4,918.6 309.8,914.6 311.0,863.7 311.3,871.4 311.9,905.1 312.3,916.3 312.4,916.6 313.3,917.1 314.4,918.4 316.4,919.2 317.6,919.0 318.8,919.6 320.3,919.7 320.7,919.3 321.4,917.8 321.7,917.6 323.0,919.6 324.1,919.8 325.0,920.2 326.4,919.7 327.3,919.8 328.2,919.7 329.7,920.2 330.5,919.9 331.6,919.9 332.7,919.6 333.8,920.1 334.2,920.2 334.8,919.8 335.1,919.2 336.0,915.5 336.8,918.5 337.2,919.4 338.3,920.0 339.5,919.8 339.8,919.1 340.1,915.9 341.0,892.8 341.8,913.3 342.2,918.3 342.7,918.9 344.6,920.0 346.0,919.5 346.9,919.8 347.9,919.7 349.1,920.2 350.1,919.8 351.2,919.7 351.5,919.0 351.8,917.3 352.5,909.3 352.8,907.9 353.8,917.8 354.1,919.3 354.3,919.6 354.6,919.6 354.9,918.5 355.2,913.9 356.1,881.7 357.2,917.3 357.3,917.8 357.9,918.7 359.6,919.6 360.1,919.2 360.4,918.0 361.2,909.9 361.5,908.5 362.5,917.6 364.1,918.6 365.4,918.4 366.4,918.9 367.4,919.0 368.5,919.7 369.7,919.3 370.7,919.4 371.6,919.3 372.7,919.9 373.1,919.9 373.6,919.4 374.4,917.1 374.7,916.8 375.8,919.0 377.3,920.0 378.3,919.9 379.3,920.0 380.5,919.4 381.6,919.9 382.6,919.9 383.5,920.1 384.9,919.5 385.9,919.8 386.9,919.8 388.0,920.2 389.2,919.7 390.2,919.8 391.1,919.6 392.4,920.2 393.4,919.8 394.5,919.8 395.5,919.5 396.9,920.1 397.8,919.9 398.8,920.0 399.9,919.5 401.1,920.0 402.1,919.9 403.1,920.0 404.2,919.3 405.1,919.3 405.4,918.9 406.5,912.7 407.3,917.0 407.6,917.7 407.9,917.6 408.9,916.3 410.6,915.6 411.9,916.8 413.0,917.3 414.0,918.3 415.0,918.7 416.2,919.6 417.3,919.4 418.3,919.5 419.4,919.1 420.7,919.7 421.6,919.6 422.6,919.8 423.9,919.2 424.9,919.6 425.9,919.6 426.9,920.0 428.3,919.4 429.2,919.6 430.2,919.5 431.3,920.1 432.5,919.6 433.5,919.7 434.4,919.4 435.9,920.1 436.8,919.7 437.8,919.8 438.9,919.4 440.1,920.0 441.1,919.8 442.0,919.9 443.1,919.4 443.7,919.3 444.0,918.9 445.0,912.3 445.9,918.7 446.2,919.8 446.6,920.0 446.9,919.6 447.1,918.8 447.4,915.8 448.3,895.9 449.3,917.2 449.5,918.6 450.8,919.8 452.0,919.5 453.0,919.6 453.9,919.5 455.3,920.1 456.3,919.7 457.3,919.8 458.3,919.4 459.7,920.0 460.6,919.8 461.6,919.9 462.8,919.4 463.9,919.9 464.9,919.8 465.9,920.0 467.2,919.4 468.2,919.7 469.3,919.7 470.3,920.1 471.5,919.5 472.5,919.7 473.4,919.5 474.8,920.1 475.8,919.7 476.9,919.7 477.9,919.3 479.0,917.4 479.8,919.2 480.3,919.7 481.1,919.8 482.3,919.4 483.4,919.9 484.4,919.8 485.4,920.0 486.6,919.4 487.6,919.7 487.9,919.5 489.0,916.0 489.8,919.2 490.2,919.8 491.1,919.5 492.0,919.7 492.9,919.6 494.2,920.1 495.3,919.6 496.3,919.7 497.3,919.4 498.7,920.0 499.6,919.7 500.7,919.7 501.7,919.4 502.9,919.9 504.0,919.8 504.8,919.9 506.1,919.3 507.2,919.8 508.2,919.7 509.2,920.0 510.7,919.4 511.5,919.7 512.6,919.6 513.6,920.1 514.8,919.5 515.9,919.6 516.8,919.5 518.1,920.0 519.1,919.7 520.1,919.7 521.2,919.4 522.6,920.0 523.9,919.6 524.2,919.4 525.5,915.3 525.8,915.8 526.5,918.6 526.8,919.0 527.1,917.5 527.4,910.8 528.3,863.9 529.4,916.0 529.5,917.0 530.8,918.4 532.9,919.6 533.4,919.7 534.4,919.3 535.4,919.5 536.3,919.4 537.6,920.0 538.6,919.6 539.7,919.6 540.6,919.4 542.1,920.0 542.6,919.6 543.6,917.8 544.5,919.2 545.3,919.3 546.2,919.8 547.3,919.7 548.3,919.9 549.5,919.3 550.5,919.7 551.6,919.7 552.5,920.0 553.1,919.8 553.7,918.8 554.0,916.7 554.9,903.1 555.8,916.9 556.6,918.3 557.2,918.8 558.2,918.9 559.2,919.2 560.2,919.2 561.5,919.9 562.5,919.6 563.6,919.6 565.3,918.2 565.7,918.4 566.6,919.4 567.6,919.8 569.0,919.3 570.1,919.7 571.1,919.7 572.0,919.9 573.4,919.3 574.4,919.6 575.4,919.5 576.5,920.0 577.8,919.4 578.7,919.6 579.7,919.4 580.9,920.0 581.9,919.6 583.0,919.6 584.0,919.3 585.3,919.9 586.3,919.7 587.3,919.7 588.4,919.2 589.6,919.7 590.6,919.7 591.5,919.9 592.9,919.3 593.9,919.6 594.8,919.6 595.5,919.8 595.8,919.3 596.0,918.2 596.7,910.6 597.4,917.6 597.7,918.7 598.2,919.1 599.2,919.3 600.3,919.9 601.5,919.4 602.5,919.4 603.4,919.1 604.6,919.7 605.0,919.6 605.7,919.0 606.0,917.5 607.0,901.9 608.0,915.2 608.9,915.5 610.1,915.5 612.9,918.2 615.3,918.9 616.7,918.3 617.7,918.5 618.7,918.4 619.8,918.9 621.1,918.4 622.0,918.5 623.0,918.2 624.3,918.8 625.5,918.3 625.8,917.9 626.1,916.5 627.0,906.1 627.9,915.9 628.1,916.7 628.2,916.6 628.4,914.7 629.5,866.8 630.6,911.3 631.5,910.0 632.0,910.0 634.8,916.7 635.1,917.0 636.4,916.6 636.8,914.8 637.1,906.4 637.5,860.4 638.4,494.5 638.7,434.0 639.0,494.4 639.7,806.6 640.2,897.5 640.6,910.5 641.6,909.4 642.0,909.4 642.3,909.6 642.8,910.6 643.9,914.0 644.9,915.6 645.8,916.0 646.9,916.0 648.2,916.8 649.1,916.7 650.1,916.9 651.3,916.5 652.4,917.0 653.4,917.0 654.3,917.2 655.7,916.6 656.7,917.0 657.8,916.9 658.8,917.3 660.0,916.7 661.0,916.8 662.3,916.7 662.6,916.1 662.8,914.7 663.5,905.1 664.3,915.3 664.4,915.6 665.3,916.3 666.4,916.3 667.7,916.9 668.6,916.7 669.6,916.7 670.7,916.2 672.0,916.7 672.9,916.5 673.9,916.7 675.2,916.0 676.2,916.4 677.8,916.4 678.2,915.9 679.0,913.2 679.2,913.3 679.8,915.2 680.2,916.0 680.6,916.1 681.6,916.1 682.6,916.5 683.8,916.0 684.8,916.1 685.7,915.8 687.1,916.4 688.1,916.1 689.1,916.1 690.1,915.6 690.4,915.1 690.8,912.2 691.5,900.6 691.6,900.2 691.7,900.6 692.2,907.0 692.5,902.5 693.6,746.1 694.5,888.4 694.7,904.6 695.0,913.7 695.9,915.0 697.8,915.9 699.0,915.5 700.0,915.8 701.1,915.8 702.1,916.2 703.3,915.7 704.3,915.8 705.2,915.6 706.5,916.0 706.9,915.8 707.2,914.9 707.7,904.8 708.6,849.2 709.4,899.3 709.8,912.1 710.6,913.6 711.0,914.0 711.3,913.9 711.6,913.2 711.9,910.5 712.3,899.0 712.9,864.6 713.2,856.4 713.5,863.9 714.1,897.3 714.5,906.2 714.8,896.5 715.0,876.0 715.9,693.8 716.8,875.9 717.0,896.6 717.3,907.7 718.0,907.6 718.3,907.7 719.6,909.0 721.6,910.3 723.0,910.0 723.8,910.4 724.9,910.5 726.0,911.1 727.1,910.9 728.1,911.0 729.1,910.9 730.5,911.6 731.5,911.4 732.5,911.5 733.5,911.2 734.9,911.8 735.7,911.7 736.8,911.9 738.0,911.4 739.1,911.8 739.7,911.7 740.0,911.0 740.2,909.3 741.0,891.2 741.7,907.8 742.0,910.9 743.4,911.7 744.9,911.8 745.3,911.2 746.0,909.0 746.3,909.3 746.9,911.1 747.4,911.6 748.7,911.3 750.0,911.7 751.0,911.3 752.1,911.2 753.3,910.7 753.5,910.4 753.8,908.2 754.1,899.2 755.0,836.0 755.8,893.4 756.2,908.1 756.4,908.6 757.5,909.0 758.5,909.8 760.4,910.2 760.8,910.2 761.8,909.6 762.8,909.7 763.1,909.4 763.6,904.8 764.5,879.8 765.3,901.5 765.5,902.6 765.6,901.1 766.7,807.3 767.5,884.9 768.0,906.1 769.1,907.8 769.6,908.2 771.1,908.3 771.5,907.3 771.9,901.3 772.7,878.2 773.5,901.7 773.9,907.5 775.6,908.3 776.9,907.9 778.1,908.4 779.1,908.3 779.9,908.4 781.3,907.7 782.3,907.9 783.3,907.6 784.3,907.6 784.8,906.7 785.7,902.2 786.0,901.6 786.3,902.2 787.1,905.4 787.7,906.0 788.9,906.4 789.9,905.6 791.1,905.3 792.2,904.5 792.5,903.3 792.7,900.4 793.0,887.9 794.0,787.6 795.0,880.0 795.1,883.0 795.2,883.8 795.3,882.9 795.8,866.1 796.0,863.7 796.1,864.3 796.9,892.3 797.3,899.7 797.9,900.5 799.5,901.8 800.8,901.6 801.9,902.2 802.9,902.2 804.0,902.5 805.1,901.8 806.1,901.9 806.4,901.6 807.5,897.7 808.5,901.4 808.8,901.5 809.6,901.0 810.6,900.8 811.1,900.4 811.4,899.5 812.4,891.6 813.2,898.3 813.5,899.5 814.7,899.6 815.8,899.0 816.8,899.2 817.1,899.0 817.5,896.2 817.7,890.9 818.1,856.2 819.0,582.0 819.3,536.5 819.6,581.6 820.4,837.8 820.7,878.1 821.1,894.9 821.5,895.4 823.3,896.1 824.7,895.5 825.7,895.6 826.8,895.4 827.7,895.6 829.0,894.8 830.0,894.6 830.9,894.2 832.3,894.3 833.2,893.5 833.5,892.6 833.8,889.6 834.7,869.1 835.6,888.8 835.8,890.7 836.0,890.9 836.7,891.4 838.5,891.3 839.7,890.7 841.0,890.9 842.0,890.3 842.5,889.0 843.5,881.9 843.8,882.7 844.6,888.2 844.8,888.4 845.1,888.3 845.5,886.8 846.2,880.0 846.5,878.6 846.8,880.1 847.4,886.1 847.7,887.4 848.5,887.1 849.6,887.2 850.6,886.8 851.5,886.9 852.0,886.5 852.4,884.4 852.7,878.4 853.6,838.5 854.6,879.8 854.8,882.0 855.5,882.7 855.8,882.6 856.1,880.7 856.4,872.8 857.3,817.9 858.1,867.5 858.5,879.9 860.3,880.8 860.6,880.4 860.8,879.3 861.9,856.6 863.0,878.4 863.7,878.3 864.8,878.6 866.7,878.2 867.9,876.9 868.2,876.4 868.6,871.4 868.9,854.8 869.8,740.0 870.9,867.0 871.2,873.7 871.6,873.8 872.7,873.5 873.0,872.9 873.4,866.9 873.7,848.7 874.7,704.9 875.6,837.4 875.9,862.0 876.2,869.8 877.5,870.0 878.7,869.4 880.1,869.4 882.1,868.3 883.0,867.1 883.3,866.1 883.8,856.6 884.6,822.8 885.5,859.4 885.7,863.6 885.8,864.1 886.2,864.6 886.6,864.7 887.6,864.4 888.6,864.6 889.6,864.3 890.6,864.3 891.1,864.0 891.7,863.1 892.3,860.6 893.1,852.2 893.4,850.7 893.7,851.9 894.6,860.7 895.3,861.1 896.1,860.9 897.1,861.0 898.2,860.6 899.5,861.1 901.2,860.6 901.5,860.3 901.8,858.8 902.1,853.5 903.0,818.8 903.8,850.5 904.3,858.9 905.3,859.7 905.8,859.9 907.0,859.3 908.1,859.6 909.1,859.5 910.1,859.8 911.4,859.0 912.3,859.1 913.3,858.9 914.4,859.2 915.6,858.2 916.6,857.9 917.6,857.1 918.9,857.2 920.4,856.2 920.8,855.5 921.1,853.7 921.8,845.4 922.1,843.7 922.4,845.4 923.2,854.6 923.5,855.1 924.9,855.8 925.5,855.8 925.9,854.1 926.2,847.8 926.6,814.3 927.5,548.2 927.8,504.2 928.1,548.2 928.9,798.0 929.2,837.3 929.4,848.7 929.7,854.3 930.8,854.6 931.8,855.3 932.9,855.6 934.0,856.3 935.1,856.0 936.2,856.2 937.1,856.0 938.5,856.7 939.5,856.4 940.5,856.5 941.5,856.1 942.9,856.7 944.3,856.6 944.6,856.2 945.0,852.7 945.3,844.4 946.0,801.8 946.3,793.2 946.6,802.1 947.3,844.5 947.7,853.8 949.1,855.2 950.4,855.3 951.3,855.8 952.4,856.0 953.4,856.6 954.7,856.2 955.7,856.3 956.6,856.2 958.0,856.8 959.0,856.3 960.1,856.2 960.8,855.8 961.2,855.3 961.5,854.0 962.4,844.2 963.5,855.0 964.3,855.4 965.4,855.0 966.8,855.5 967.6,855.1 967.9,854.1 968.2,850.3 969.1,823.1 970.0,849.5 970.2,852.6 970.7,853.5 972.9,854.6 974.2,854.0 975.2,854.1 976.1,853.9 977.4,854.4 978.5,854.2 979.5,854.4 980.4,854.3 981.8,855.2 982.8,855.1 983.8,855.4 984.9,855.1 986.2,855.9 987.1,856.0 988.1,856.3 989.3,856.0 990.4,856.6 991.4,856.7 992.4,857.2 993.7,856.9 994.8,857.3 995.7,857.3 996.8,857.8 998.0,857.4 999.2,857.4 999.7,857.1 1000.1,855.6 1000.3,853.2 1000.7,839.7 1001.6,753.8 1001.9,740.8 1002.2,753.6 1003.0,833.5 1003.3,848.6 1003.6,854.9 1003.7,855.5 1004.4,855.8 1005.8,857.2 1007.6,857.7 1008.8,857.3 1009.9,857.9 1010.9,857.9 1011.8,858.2 1012.9,857.7" fill="none" stroke="url(#tg)" stroke-width="1.2" stroke-linejoin="round"/>
<path d="M250.7,433 V921 H1012" fill="none" stroke="#3a3a3a" stroke-width="1.4"/>
<path d="M250.7,911.9h-2.2M250.7,902.8h-2.2M250.7,893.7h-2.2M250.7,884.6h-2.2M250.7,875.5h-3.0M250.7,866.4h-2.2M250.7,857.3h-2.2M250.7,848.2h-2.2M250.7,839.1h-2.2M250.7,830.0h-3.0M250.7,820.9h-2.2M250.7,811.8h-2.2M250.7,802.7h-2.2M250.7,793.6h-2.2M250.7,784.5h-3.0M250.7,775.4h-2.2M250.7,766.3h-2.2M250.7,757.2h-2.2M250.7,748.1h-2.2M250.7,739.0h-3.0M250.7,729.9h-2.2M250.7,720.8h-2.2M250.7,711.7h-2.2M250.7,702.6h-2.2M250.7,693.5h-3.0M250.7,684.4h-2.2M250.7,675.3h-2.2M250.7,666.2h-2.2M250.7,657.1h-2.2M250.7,648.0h-3.0M250.7,638.9h-2.2M250.7,629.8h-2.2M250.7,620.7h-2.2M250.7,611.6h-2.2M250.7,602.5h-3.0M250.7,593.4h-2.2M250.7,584.3h-2.2M250.7,575.2h-2.2M250.7,566.1h-2.2M250.7,557.0h-3.0M250.7,547.9h-2.2M250.7,538.8h-2.2M250.7,529.7h-2.2M250.7,520.6h-2.2M250.7,511.5h-3.0M250.7,502.4h-2.2M250.7,493.3h-2.2M250.7,484.2h-2.2M250.7,475.1h-2.2M250.7,466.0h-3.0M250.7,456.9h-2.2M250.7,447.8h-2.2M250.7,438.7h-2.2M257.3,921v3.8M266.8,921v3.8M276.4,921v3.8M286.0,921v3.8M295.5,921v6.5M305.1,921v3.8M314.7,921v3.8M324.2,921v3.8M333.8,921v3.8M343.4,921v6.5M352.9,921v3.8M362.5,921v3.8M372.1,921v3.8M381.7,921v3.8M391.2,921v6.5M400.8,921v3.8M410.4,921v3.8M419.9,921v3.8M429.5,921v3.8M439.1,921v6.5M448.6,921v3.8M458.2,921v3.8M467.8,921v3.8M477.3,921v3.8M486.9,921v6.5M496.5,921v3.8M506.0,921v3.8M515.6,921v3.8M525.2,921v3.8M534.7,921v6.5M544.3,921v3.8M553.9,921v3.8M563.4,921v3.8M573.0,921v3.8M582.6,921v6.5M592.1,921v3.8M601.7,921v3.8M611.3,921v3.8M620.9,921v3.8M630.4,921v6.5M640.0,921v3.8M649.6,921v3.8M659.1,921v3.8M668.7,921v3.8M678.3,921v6.5M687.8,921v3.8M697.4,921v3.8M707.0,921v3.8M716.5,921v3.8M726.1,921v6.5M735.7,921v3.8M745.2,921v3.8M754.8,921v3.8M764.4,921v3.8M773.9,921v6.5M783.5,921v3.8M793.1,921v3.8M802.6,921v3.8M812.2,921v3.8M821.8,921v6.5M831.3,921v3.8M840.9,921v3.8M850.5,921v3.8M860.1,921v3.8M869.6,921v6.5M879.2,921v3.8M888.8,921v3.8M898.3,921v3.8M907.9,921v3.8M917.5,921v6.5M927.0,921v3.8M936.6,921v3.8M946.2,921v3.8M955.7,921v3.8M965.3,921v6.5M974.9,921v3.8M984.4,921v3.8M994.0,921v3.8M1003.6,921v3.8" stroke="#333" stroke-width="1.2" fill="none"/>
<text x="247.2" y="883.4" font-size="14.3" letter-spacing="-0.18" text-anchor="end" fill="#222" font-family="Liberation Serif">1 000 000</text>
<text x="247.2" y="837.9" font-size="14.3" letter-spacing="-0.18" text-anchor="end" fill="#222" font-family="Liberation Serif">2 000 000</text>
<text x="247.2" y="792.4" font-size="14.3" letter-spacing="-0.18" text-anchor="end" fill="#222" font-family="Liberation Serif">3 000 000</text>
<text x="247.2" y="746.9" font-size="14.3" letter-spacing="-0.18" text-anchor="end" fill="#222" font-family="Liberation Serif">4 000 000</text>
<text x="247.2" y="701.4" font-size="14.3" letter-spacing="-0.18" text-anchor="end" fill="#222" font-family="Liberation Serif">5 000 000</text>
<text x="247.2" y="655.9" font-size="14.3" letter-spacing="-0.18" text-anchor="end" fill="#222" font-family="Liberation Serif">6 000 000</text>
<text x="247.2" y="610.4" font-size="14.3" letter-spacing="-0.18" text-anchor="end" fill="#222" font-family="Liberation Serif">7 000 000</text>
<text x="247.2" y="564.9" font-size="14.3" letter-spacing="-0.18" text-anchor="end" fill="#222" font-family="Liberation Serif">8 000 000</text>
<text x="247.2" y="519.4" font-size="14.3" letter-spacing="-0.18" text-anchor="end" fill="#222" font-family="Liberation Serif">9 000 000</text>
<text x="247.2" y="473.9" font-size="14.3" letter-spacing="-0.18" text-anchor="end" fill="#222" font-family="Liberation Serif">10 000 000</text>
<text x="294.7" y="940.0" font-size="14.5" text-anchor="middle" fill="#222" font-family="Liberation Serif">2.00</text>
<text x="342.6" y="940.0" font-size="14.5" text-anchor="middle" fill="#222" font-family="Liberation Serif">4.00</text>
<text x="390.4" y="940.0" font-size="14.5" text-anchor="middle" fill="#222" font-family="Liberation Serif">6.00</text>
<text x="438.3" y="940.0" font-size="14.5" text-anchor="middle" fill="#222" font-family="Liberation Serif">8.00</text>
<text x="486.1" y="940.0" font-size="14.5" text-anchor="middle" fill="#222" font-family="Liberation Serif">10.00</text>
<text x="533.9" y="940.0" font-size="14.5" text-anchor="middle" fill="#222" font-family="Liberation Serif">12.00</text>
<text x="581.8" y="940.0" font-size="14.5" text-anchor="middle" fill="#222" font-family="Liberation Serif">14.00</text>
<text x="629.6" y="940.0" font-size="14.5" text-anchor="middle" fill="#222" font-family="Liberation Serif">16.00</text>
<text x="677.5" y="940.0" font-size="14.5" text-anchor="middle" fill="#222" font-family="Liberation Serif">18.00</text>
<text x="725.3" y="940.0" font-size="14.5" text-anchor="middle" fill="#222" font-family="Liberation Serif">20.00</text>
<text x="773.1" y="940.0" font-size="14.5" text-anchor="middle" fill="#222" font-family="Liberation Serif">22.00</text>
<text x="821.0" y="940.0" font-size="14.5" text-anchor="middle" fill="#222" font-family="Liberation Serif">24.00</text>
<text x="868.8" y="940.0" font-size="14.5" text-anchor="middle" fill="#222" font-family="Liberation Serif">26.00</text>
<text x="916.7" y="940.0" font-size="14.5" text-anchor="middle" fill="#222" font-family="Liberation Serif">28.00</text>
<text x="964.5" y="940.0" font-size="14.5" text-anchor="middle" fill="#222" font-family="Liberation Serif">30.00</text>
<text x="607.5" y="963.5" font-size="15.5" fill="#222" font-family="Liberation Serif, Noto Serif CJK SC, serif">时间/min</text>
<text transform="translate(174.5,679) rotate(-90)" font-size="15" fill="#222" font-family="Liberation Serif, Noto Serif CJK SC, serif">丰度</text>
<text x="304.2" y="848.8" font-size="14.0" text-anchor="middle" fill="#313f6c" font-family="Liberation Serif">2.259</text>
<text x="342.0" y="889.5" font-size="14.0" text-anchor="middle" fill="#313f6c" font-family="Liberation Serif">3.901</text>
<text x="365.3" y="904.8" font-size="14.0" text-anchor="middle" fill="#313f6c" font-family="Liberation Serif">4.743</text>
<text x="450.0" y="893.5" font-size="14.0" text-anchor="middle" fill="#313f6c" font-family="Liberation Serif">8.376</text>
<text x="528.6" y="860.8" font-size="14.0" text-anchor="middle" fill="#313f6c" font-family="Liberation Serif">11.730</text>
<text x="554.9" y="900.8" font-size="14.0" text-anchor="middle" fill="#313f6c" font-family="Liberation Serif">12.835</text>
<text x="607.4" y="900.8" font-size="14.0" text-anchor="middle" fill="#313f6c" font-family="Liberation Serif">15.016</text>
<text x="630.0" y="866.0" font-size="14.0" text-anchor="middle" fill="#313f6c" font-family="Liberation Serif">15.954</text>
<text x="663.5" y="904.8" font-size="14.0" text-anchor="middle" fill="#313f6c" font-family="Liberation Serif">17.380</text>
<text x="691.9" y="893.3" font-size="14.0" text-anchor="middle" fill="#313f6c" font-family="Liberation Serif">18.561</text>
<text x="693.6" y="746.4" font-size="14.0" text-anchor="middle" fill="#313f6c" font-family="Liberation Serif">18.637</text>
<text x="709.0" y="848.6" font-size="14.0" text-anchor="middle" fill="#313f6c" font-family="Liberation Serif">19.265</text>
<text x="716.4" y="696.0" font-size="14.0" text-anchor="middle" fill="#313f6c" font-family="Liberation Serif">19.559</text>
<text x="740.2" y="891.4" font-size="14.0" text-anchor="middle" fill="#313f6c" font-family="Liberation Serif">20.629</text>
<text x="755.0" y="833.8" font-size="14.0" text-anchor="middle" fill="#313f6c" font-family="Liberation Serif">21.207</text>
<text x="765.2" y="876.2" font-size="14.0" text-anchor="middle" fill="#313f6c" font-family="Liberation Serif">21.617</text>
<text x="765.4" y="806.8" font-size="14.0" text-anchor="middle" fill="#313f6c" font-family="Liberation Serif">21.689</text>
<text x="793.7" y="784.5" font-size="14.0" text-anchor="middle" fill="#313f6c" font-family="Liberation Serif">22.836</text>
<text x="795.6" y="865.6" font-size="14.0" text-anchor="middle" fill="#313f6c" font-family="Liberation Serif">22.912</text>
<text x="819.4" y="536.6" font-size="14.0" text-anchor="middle" fill="#313f6c" font-family="Liberation Serif">23.900</text>
<text x="869.1" y="739.0" font-size="14.0" text-anchor="middle" fill="#313f6c" font-family="Liberation Serif">26.010</text>
<text x="874.4" y="706.4" font-size="14.0" text-anchor="middle" fill="#313f6c" font-family="Liberation Serif">26.216</text>
<text x="883.9" y="820.1" font-size="14.0" text-anchor="middle" fill="#313f6c" font-family="Liberation Serif">26.629</text>
<text x="927.3" y="501.7" font-size="14.0" text-anchor="middle" fill="#313f6c" font-family="Liberation Serif">28.435</text>
<text x="946.3" y="792.1" font-size="14.0" text-anchor="middle" fill="#313f6c" font-family="Liberation Serif">29.211</text>
<text x="967.7" y="821.3" font-size="14.0" text-anchor="middle" fill="#313f6c" font-family="Liberation Serif">30.159</text>
<text x="998.4" y="739.0" font-size="14.0" text-anchor="middle" fill="#313f6c" font-family="Liberation Serif">31.53</text>
<text x="641.6" y="443.5" font-size="14.0" fill="#313f6c" font-family="Liberation Serif">16.342</text>
<polyline points="552.9,601.3 568.0,593.2 588.2,604.6 608.5,593.2 629.2,604.6 649.4,593.2 670.0,604.6 684.3,596.2" fill="none" stroke="#fff" stroke-width="17.0" stroke-linejoin="round"/>
<polyline points="748.3,589.6 757.5,581.5 764.3,592.6 748.3,589.6" fill="none" stroke="#fff" stroke-width="7.0" stroke-linejoin="round"/>
<polyline points="764.3,592.6 776.4,582.4 788.5,586.5" fill="none" stroke="#fff" stroke-width="7.0" stroke-linejoin="round"/>
<polyline points="796.5,585.0 807.5,579.0 821.9,586.5 836.3,579.0 850.7,586.5 860.6,581.8" fill="none" stroke="#fff" stroke-width="17.0" stroke-linejoin="round"/>
<polyline points="868.0,581.5 878.8,586.1 893.2,578.5 909.1,578.5 902.5,589.0" fill="none" stroke="#fff" stroke-width="7.0" stroke-linejoin="round"/>
<polyline points="893.2,578.5 899.5,589.0" fill="none" stroke="#fff" stroke-width="7.0" stroke-linejoin="round"/>
<polyline points="754.7,642.2 767.9,649.8 767.9,665.0 754.7,672.6 740.6,665.0 740.6,649.8 754.7,642.2" fill="none" stroke="#fff" stroke-width="7.0" stroke-linejoin="round"/>
<polyline points="744.1,632.1 754.7,642.2 762.3,630.1" fill="none" stroke="#fff" stroke-width="7.0" stroke-linejoin="round"/>
<polyline points="740.6,665.0 740.6,680.2" fill="none" stroke="#fff" stroke-width="7.0" stroke-linejoin="round"/>
<polyline points="740.6,665.0 727.4,661.0 716.5,667.2" fill="none" stroke="#fff" stroke-width="7.0" stroke-linejoin="round"/>
<polyline points="767.9,665.0 774.4,669.0" fill="none" stroke="#fff" stroke-width="7.0" stroke-linejoin="round"/>
<polyline points="646.7,716.0 660.8,707.5 674.4,715.2 688.8,707.5 704.0,716.0" fill="none" stroke="#fff" stroke-width="7.0" stroke-linejoin="round"/>
<polyline points="687.6,707.5 687.6,692.0" fill="none" stroke="#fff" stroke-width="7.0" stroke-linejoin="round"/>
<polyline points="674.4,715.2 674.4,726.0" fill="none" stroke="#fff" stroke-width="7.0" stroke-linejoin="round"/>
<polyline points="727.2,742.4 736.0,729.5 745.6,742.4 727.2,742.4" fill="none" stroke="#fff" stroke-width="7.0" stroke-linejoin="round"/>
<polyline points="745.6,742.4 762.5,733.6 778.5,741.6 794.5,733.6 807.3,740.8" fill="none" stroke="#fff" stroke-width="7.0" stroke-linejoin="round"/>
<polyline points="347.5,848.8 335.2,849.3 330.1,866.5 344.8,875.1 358.4,864.5 353.5,853.5" fill="none" stroke="#fff" stroke-width="7.0" stroke-linejoin="round"/>
<polyline points="397.9,871.0 394.8,858.9 407.0,846.8" fill="none" stroke="#fff" stroke-width="7.0" stroke-linejoin="round"/>
<polyline points="403.9,872.6 414.5,866.7 429.0,874.6" fill="none" stroke="#fff" stroke-width="7.0" stroke-linejoin="round"/>
<polyline points="396.8,879.0 386.7,886.2 371.6,881.9" fill="none" stroke="#fff" stroke-width="7.0" stroke-linejoin="round"/>
<polyline points="488.1,772.2 496.8,765.5 500.9,775.6 488.1,772.2" fill="none" stroke="#fff" stroke-width="7.0" stroke-linejoin="round"/>
<polyline points="500.9,775.6 511.7,766.8 521.8,769.5" fill="none" stroke="#fff" stroke-width="7.0" stroke-linejoin="round"/>
<polyline points="527.2,768.2 535.3,764.2 548.7,770.2 560.9,764.2 573.7,770.2 581.3,766.2" fill="none" stroke="#fff" stroke-width="7.0" stroke-linejoin="round"/>
<polyline points="588.0,766.0 597.9,770.0 610.1,763.5 623.6,763.5 618.6,773.0" fill="none" stroke="#fff" stroke-width="7.0" stroke-linejoin="round"/>
<polyline points="610.1,763.5 613.8,772.0" fill="none" stroke="#fff" stroke-width="7.0" stroke-linejoin="round"/>
<polyline points="509.0,836.3 516.4,829.5 529.2,842.3 542.7,829.5 551.4,838.3" fill="none" stroke="#fff" stroke-width="7.0" stroke-linejoin="round"/>
<polyline points="561.5,835.6 569.0,829.5 581.8,842.3 594.6,829.5 607.4,842.7" fill="none" stroke="#fff" stroke-width="7.0" stroke-linejoin="round"/>
<polyline points="552.9,601.3 568.0,593.2 588.2,604.6 608.5,593.2 629.2,604.6 649.4,593.2 670.0,604.6 684.3,596.2" fill="none" stroke="#3a3a3a" stroke-width="1.00" stroke-linejoin="miter"/>
<text x="541.3" y="607.2" font-size="7.2" text-anchor="middle" fill="#222" font-weight="bold" font-family="Liberation Serif">OCN</text>
<text x="695.5" y="594.6" font-size="7.2" text-anchor="middle" fill="#222" font-weight="bold" font-family="Liberation Serif">NCO</text>
<polyline points="748.3,589.6 757.5,581.5 764.3,592.6 748.3,589.6" fill="none" stroke="#3a3a3a" stroke-width="1.00" stroke-linejoin="miter"/>
<polyline points="764.3,592.6 776.4,582.4 788.5,586.5" fill="none" stroke="#3a3a3a" stroke-width="1.00" stroke-linejoin="miter"/>
<polyline points="796.5,585.0 807.5,579.0 821.9,586.5 836.3,579.0 850.7,586.5 860.6,581.8" fill="none" stroke="#3a3a3a" stroke-width="1.00" stroke-linejoin="miter"/>
<polyline points="868.0,581.5 878.8,586.1 893.2,578.5 909.1,578.5 902.5,589.0" fill="none" stroke="#3a3a3a" stroke-width="1.00" stroke-linejoin="miter"/>
<polyline points="893.2,578.5 899.5,589.0" fill="none" stroke="#3a3a3a" stroke-width="1.00" stroke-linejoin="miter"/>
<text x="759.7" y="580.0" font-size="7.2" text-anchor="middle" fill="#222" font-weight="bold" font-family="Liberation Serif">O</text>
<text x="792.3" y="589.8" font-size="7.2" text-anchor="middle" fill="#222" font-weight="bold" font-family="Liberation Serif">O</text>
<text x="864.2" y="582.0" font-size="7.2" text-anchor="middle" fill="#222" font-weight="bold" font-family="Liberation Serif">O</text>
<text x="901.2" y="595.0" font-size="7.2" text-anchor="middle" fill="#222" font-weight="bold" font-family="Liberation Serif">O</text>
<polyline points="754.7,642.2 767.9,649.8 767.9,665.0 754.7,672.6 740.6,665.0 740.6,649.8 754.7,642.2" fill="none" stroke="#3a3a3a" stroke-width="1.00" stroke-linejoin="miter"/>
<polyline points="744.1,632.1 754.7,642.2 762.3,630.1" fill="none" stroke="#3a3a3a" stroke-width="1.00" stroke-linejoin="miter"/>
<polyline points="740.6,665.0 740.6,680.2" fill="none" stroke="#3a3a3a" stroke-width="1.00" stroke-linejoin="miter"/>
<polyline points="740.6,665.0 727.4,661.0 716.5,667.2" fill="none" stroke="#3a3a3a" stroke-width="1.00" stroke-linejoin="miter"/>
<polyline points="767.9,665.0 774.4,669.0" fill="none" stroke="#3a3a3a" stroke-width="1.00" stroke-linejoin="miter"/>
<text x="708.6" y="672.0" font-size="7.2" text-anchor="middle" fill="#222" font-weight="bold" font-family="Liberation Serif">OCN</text>
<text x="785.8" y="676.0" font-size="7.2" text-anchor="middle" fill="#222" font-weight="bold" font-family="Liberation Serif">NCO</text>
<polyline points="646.7,716.0 660.8,707.5 674.4,715.2 688.8,707.5 704.0,716.0" fill="none" stroke="#3a3a3a" stroke-width="1.00" stroke-linejoin="miter"/>
<polyline points="687.6,707.5 687.6,692.0" fill="none" stroke="#3a3a3a" stroke-width="1.00" stroke-linejoin="miter"/>
<polyline points="690.2,708.5 690.2,692.0" fill="none" stroke="#3a3a3a" stroke-width="1.00" stroke-linejoin="miter"/>
<polyline points="674.4,715.2 674.4,726.0" fill="none" stroke="#3a3a3a" stroke-width="1.00" stroke-linejoin="miter"/>
<text x="678.0" y="733.8" font-size="7.2" text-anchor="middle" fill="#222" font-weight="bold" font-family="Liberation Serif">OH</text>
<polyline points="727.2,742.4 736.0,729.5 745.6,742.4 727.2,742.4" fill="none" stroke="#3a3a3a" stroke-width="1.00" stroke-linejoin="miter"/>
<polyline points="745.6,742.4 762.5,733.6 778.5,741.6 794.5,733.6 807.3,740.8" fill="none" stroke="#3a3a3a" stroke-width="1.00" stroke-linejoin="miter"/>
<text x="736.0" y="728.8" font-size="7.2" text-anchor="middle" fill="#222" font-weight="bold" font-family="Liberation Serif">O</text>
<text x="813.3" y="746.6" font-size="7.2" text-anchor="middle" fill="#222" font-weight="bold" font-family="Liberation Serif">OH</text>
<polyline points="347.5,848.8 335.2,849.3 330.1,866.5 344.8,875.1 358.4,864.5 353.5,853.5" fill="none" stroke="#3a3a3a" stroke-width="1.00" stroke-linejoin="miter"/>
<text x="351.9" y="852.4" font-size="7.2" text-anchor="middle" fill="#222" font-weight="bold" font-family="Liberation Serif">O</text>
<text x="398.2" y="835.6" font-size="7.2" text-anchor="middle" fill="#222" font-weight="bold" font-family="Liberation Serif">5.1 min</text>
<polyline points="397.9,871.0 394.8,858.9 407.0,846.8" fill="none" stroke="#3a3a3a" stroke-width="1.00" stroke-linejoin="miter"/>
<polyline points="403.9,872.6 414.5,866.7 429.0,874.6" fill="none" stroke="#3a3a3a" stroke-width="1.00" stroke-linejoin="miter"/>
<polyline points="396.8,879.0 386.7,886.2 371.6,881.9" fill="none" stroke="#3a3a3a" stroke-width="1.00" stroke-linejoin="miter"/>
<text x="400.0" y="878.2" font-size="7.2" text-anchor="middle" fill="#222" font-weight="bold" font-family="Liberation Serif">N</text>
<polyline points="488.1,772.2 496.8,765.5 500.9,775.6 488.1,772.2" fill="none" stroke="#3a3a3a" stroke-width="1.00" stroke-linejoin="miter"/>
<polyline points="500.9,775.6 511.7,766.8 521.8,769.5" fill="none" stroke="#3a3a3a" stroke-width="1.00" stroke-linejoin="miter"/>
<polyline points="527.2,768.2 535.3,764.2 548.7,770.2 560.9,764.2 573.7,770.2 581.3,766.2" fill="none" stroke="#3a3a3a" stroke-width="1.00" stroke-linejoin="miter"/>
<polyline points="588.0,766.0 597.9,770.0 610.1,763.5 623.6,763.5 618.6,773.0" fill="none" stroke="#3a3a3a" stroke-width="1.00" stroke-linejoin="miter"/>
<polyline points="610.1,763.5 613.8,772.0" fill="none" stroke="#3a3a3a" stroke-width="1.00" stroke-linejoin="miter"/>
<text x="496.4" y="765.4" font-size="7.2" text-anchor="middle" fill="#222" font-weight="bold" font-family="Liberation Serif">O</text>
<text x="584.6" y="767.4" font-size="7.2" text-anchor="middle" fill="#222" font-weight="bold" font-family="Liberation Serif">O</text>
<text x="616.1" y="779.3" font-size="7.2" text-anchor="middle" fill="#222" font-weight="bold" font-family="Liberation Serif">O</text>
<line x1="608" y1="793.8" x2="622.6" y2="841.5" stroke="#333" stroke-width="1.1"/>
<polygon points="619.3,841.2 625.8,839.4 624.6,847.3" fill="#222"/>
<text x="562.9" y="821.2" font-size="7.2" text-anchor="middle" fill="#222" font-weight="bold" font-family="Liberation Serif">12.835 min</text>
<polyline points="509.0,836.3 516.4,829.5 529.2,842.3 542.7,829.5 551.4,838.3" fill="none" stroke="#3a3a3a" stroke-width="1.00" stroke-linejoin="miter"/>
<polyline points="561.5,835.6 569.0,829.5 581.8,842.3 594.6,829.5 607.4,842.7" fill="none" stroke="#3a3a3a" stroke-width="1.00" stroke-linejoin="miter"/>
<text x="502.9" y="845.0" font-size="7.2" text-anchor="middle" fill="#222" font-weight="bold" font-family="Liberation Serif">HO</text>
<text x="557.1" y="845.3" font-size="7.2" text-anchor="middle" fill="#222" font-weight="bold" font-family="Liberation Serif">O</text>
<rect x="895.6" y="600.4" width="122" height="97.5" fill="#d0e0f7"/>
<path d="M911.4,689.4v-52.0" stroke="#6f7a88" stroke-width="1.6" fill="none"/>
<path d="M912.3,689.4v-19.0" stroke="#6f7a88" stroke-width="1.0" fill="none"/>
<path d="M913.3,689.4v-8.0" stroke="#6f7a88" stroke-width="1.0" fill="none"/>
<path d="M924.8,689.4v-69.0" stroke="#6f7a88" stroke-width="1.0" fill="none"/>
<path d="M925.8,689.4v-57.0" stroke="#6f7a88" stroke-width="1.4" fill="none"/>
<path d="M926.7,689.4v-18.0" stroke="#6f7a88" stroke-width="1.0" fill="none"/>
<path d="M941.0,689.4v-86.0" stroke="#6f7a88" stroke-width="1.4" fill="none"/>
<path d="M941.9,689.4v-12.0" stroke="#6f7a88" stroke-width="0.8" fill="none"/>
<path d="M940.0,689.4v-4.0" stroke="#6f7a88" stroke-width="0.8" fill="none"/>
<path d="M953.6,689.4v-30.0" stroke="#6f7a88" stroke-width="0.9" fill="none"/>
<path d="M954.6,689.4v-5.0" stroke="#6f7a88" stroke-width="1.0" fill="none"/>
<path d="M967.1,689.4v-16.0" stroke="#6f7a88" stroke-width="1.2" fill="none"/>
<path d="M968.1,689.4v-23.0" stroke="#6f7a88" stroke-width="1.0" fill="none"/>
<path d="M969.0,689.4v-14.0" stroke="#6f7a88" stroke-width="1.0" fill="none"/>
<path d="M982.5,689.4v-2.0" stroke="#6f7a88" stroke-width="0.8" fill="none"/>
<path d="M983.4,689.4v-2.0" stroke="#6f7a88" stroke-width="0.8" fill="none"/>
<path d="M991.1,689.4v-6.0" stroke="#6f7a88" stroke-width="0.8" fill="none"/>
<path d="M993.0,689.4v-3.0" stroke="#6f7a88" stroke-width="0.8" fill="none"/>
<path d="M995.9,689.4v-73.0" stroke="#6f7a88" stroke-width="0.8" fill="none"/>
<path d="M996.9,689.4v-4.0" stroke="#6f7a88" stroke-width="0.8" fill="none"/>
<path d="M1009.4,689.4v-12.0" stroke="#6f7a88" stroke-width="1.2" fill="none"/>
<path d="M1010.3,689.4v-12.0" stroke="#6f7a88" stroke-width="1.0" fill="none"/>
<path d="M927.7,689.4v-3.0" stroke="#6f7a88" stroke-width="0.8" fill="none"/>
<path d="M914.2,689.4v-3.0" stroke="#6f7a88" stroke-width="0.8" fill="none"/>
<path d="M965.2,689.4v-3.0" stroke="#6f7a88" stroke-width="0.8" fill="none"/>
<path d="M956.5,689.4v-2.0" stroke="#6f7a88" stroke-width="0.8" fill="none"/>
<path d="M897,689.4H1016" stroke="#555" stroke-width="1"/>
<path d="M900.8,689.4v2.2M904.6,689.4v2.2M908.5,689.4v2.2M912.3,689.4v2.2M916.2,689.4v2.2M920.0,689.4v2.2M923.9,689.4v2.2M927.7,689.4v2.2M931.5,689.4v2.2M935.4,689.4v2.2M939.2,689.4v2.2M943.1,689.4v2.2M946.9,689.4v2.2M950.8,689.4v2.2M954.6,689.4v2.2M958.4,689.4v2.2M962.3,689.4v2.2M966.1,689.4v2.2M970.0,689.4v2.2M973.8,689.4v2.2M977.7,689.4v2.2M981.5,689.4v2.2M985.4,689.4v2.2M989.2,689.4v2.2M993.0,689.4v2.2M996.9,689.4v2.2M1000.7,689.4v2.2M1004.6,689.4v2.2M1008.4,689.4v2.2M1012.3,689.4v2.2" stroke="#666" stroke-width="0.6" fill="none"/>
<text x="910.4" y="698.0" font-size="5.6" text-anchor="middle" fill="#444" font-family="Liberation Serif">40</text>
<text x="929.6" y="698.0" font-size="5.6" text-anchor="middle" fill="#444" font-family="Liberation Serif">60</text>
<text x="948.8" y="698.0" font-size="5.6" text-anchor="middle" fill="#444" font-family="Liberation Serif">80</text>
<text x="968.1" y="698.0" font-size="5.6" text-anchor="middle" fill="#444" font-family="Liberation Serif">100</text>
<text x="987.3" y="698.0" font-size="5.6" text-anchor="middle" fill="#444" font-family="Liberation Serif">120</text>
<text x="1006.5" y="698.0" font-size="5.6" text-anchor="middle" fill="#444" font-family="Liberation Serif">140</text>
<text x="911.6" y="638.5" font-size="5.6" text-anchor="middle" fill="#3a4f7a" font-family="Liberation Serif">41.0</text>
<text x="924.4" y="621.0" font-size="5.6" text-anchor="middle" fill="#3a4f7a" font-family="Liberation Serif">55.1</text>
<text x="940.3" y="604.6" font-size="5.6" text-anchor="middle" fill="#3a4f7a" font-family="Liberation Serif">73.1</text>
<text x="954.0" y="660.5" font-size="5.6" text-anchor="middle" fill="#3a4f7a" font-family="Liberation Serif">85.1</text>
<text x="967.6" y="667.3" font-size="5.6" text-anchor="middle" fill="#3a4f7a" font-family="Liberation Serif">100.1</text>
<text x="982.3" y="684.8" font-size="5.6" text-anchor="middle" fill="#3a4f7a" font-family="Liberation Serif">116.1</text>
<text x="996.8" y="614.6" font-size="5.6" text-anchor="middle" fill="#3a4f7a" font-family="Liberation Serif">129.1</text>
<text x="1009.5" y="674.6" font-size="5.6" text-anchor="middle" fill="#3a4f7a" font-family="Liberation Serif">143.1</text>
</svg>
</body></html>
